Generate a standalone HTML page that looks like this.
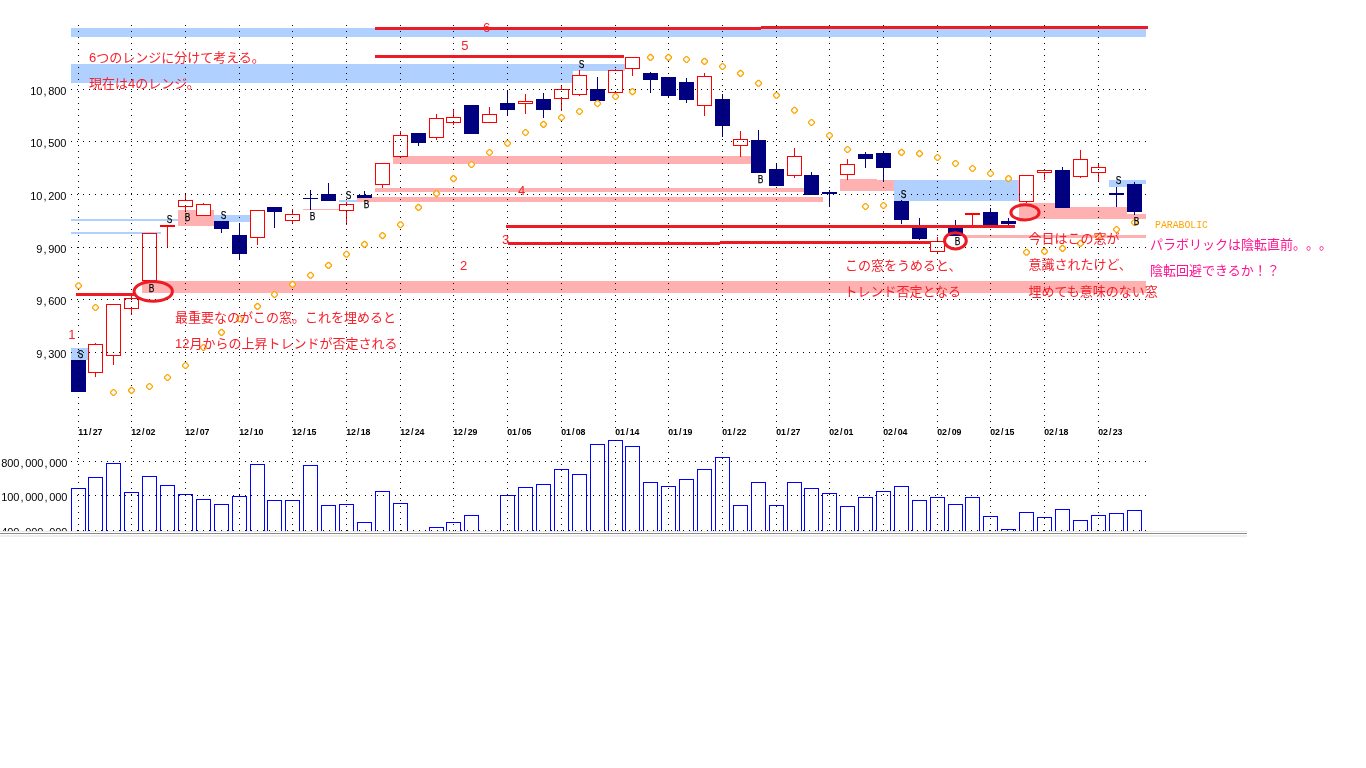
<!DOCTYPE html>
<html lang="ja"><head><meta charset="utf-8"><title>chart</title>
<style>html,body{margin:0;padding:0;background:#fff;overflow:hidden}svg{display:block}text{white-space:pre;text-spacing-trim:space-all}</style>
</head><body>
<svg width="1366" height="768" viewBox="0 0 1366 768">
<rect width="1366" height="768" fill="#fff"/>
<g shape-rendering="crispEdges">
<rect x="71" y="28" width="1075" height="9" fill="#b0d0ff"/>
<rect x="71" y="64" width="502" height="19" fill="#b0d0ff"/>
<rect x="573" y="64" width="52" height="7" fill="#b0d0ff"/>
<rect x="71" y="219" width="107" height="2" fill="#b0d0ff"/>
<rect x="71" y="232" width="90" height="2" fill="#b0d0ff"/>
<rect x="71" y="348" width="17" height="12" fill="#b0d0ff"/>
<rect x="214" y="215" width="36" height="7" fill="#b0d0ff"/>
<rect x="339" y="200" width="18" height="2" fill="#b0d0ff"/>
<rect x="894" y="180" width="125" height="21" fill="#b0d0ff"/>
<rect x="1109" y="180" width="18" height="7" fill="#b0d0ff"/>
<rect x="1127" y="180" width="19" height="4" fill="#b0d0ff"/>
<rect x="178" y="210" width="36" height="16" fill="#ffb0b0"/>
<rect x="142" y="281" width="1004" height="12" fill="#ffb0b0"/>
<rect x="303" y="209" width="36" height="1" fill="#ffb0b0"/>
<rect x="357" y="197" width="466" height="5" fill="#ffb0b0"/>
<rect x="375" y="188" width="429" height="4" fill="#ffb0b0"/>
<rect x="393" y="156" width="358" height="8" fill="#ffb0b0"/>
<rect x="840" y="179" width="37" height="12" fill="#ffb0b0"/>
<rect x="877" y="180" width="17" height="11" fill="#ffb0b0"/>
<rect x="963" y="235" width="183" height="3" fill="#ffb0b0"/>
<rect x="1019" y="203" width="36" height="16" fill="#ffb0b0"/>
<rect x="1055" y="207" width="72" height="12" fill="#ffb0b0"/>
<rect x="1127" y="214" width="19" height="5" fill="#ffb0b0"/>
<rect x="71" y="360" width="15" height="32" fill="#000080"/>
<rect x="95" y="343" width="1" height="1" fill="#ff0000"/>
<rect x="95" y="373" width="1" height="4" fill="#ff0000"/>
<rect x="88" y="344" width="15" height="29" fill="#ff0000"/>
<rect x="89" y="345" width="13" height="27" fill="#fff"/>
<rect x="113" y="356" width="1" height="9" fill="#ff0000"/>
<rect x="106" y="304" width="15" height="52" fill="#ff0000"/>
<rect x="107" y="305" width="13" height="50" fill="#fff"/>
<rect x="131" y="295" width="1" height="3" fill="#ff0000"/>
<rect x="131" y="309" width="1" height="6" fill="#ff0000"/>
<rect x="124" y="298" width="15" height="11" fill="#ff0000"/>
<rect x="125" y="299" width="13" height="9" fill="#fff"/>
<rect x="142" y="233" width="15" height="48" fill="#ff0000"/>
<rect x="143" y="234" width="13" height="46" fill="#fff"/>
<rect x="167" y="227" width="1" height="20" fill="#ff0000"/>
<rect x="160" y="225" width="15" height="2" fill="#ff0000"/>
<rect x="185" y="194" width="1" height="6" fill="#ff0000"/>
<rect x="185" y="207" width="1" height="5" fill="#ff0000"/>
<rect x="178" y="200" width="15" height="7" fill="#ff0000"/>
<rect x="179" y="201" width="13" height="5" fill="#fff"/>
<rect x="203" y="203" width="1" height="1" fill="#ff0000"/>
<rect x="196" y="204" width="15" height="12" fill="#ff0000"/>
<rect x="197" y="205" width="13" height="10" fill="#fff"/>
<rect x="221" y="229" width="1" height="4" fill="#000080"/>
<rect x="214" y="221" width="15" height="8" fill="#000080"/>
<rect x="239" y="223" width="1" height="12" fill="#000080"/>
<rect x="239" y="254" width="1" height="5" fill="#000080"/>
<rect x="232" y="235" width="15" height="19" fill="#000080"/>
<rect x="257" y="238" width="1" height="7" fill="#ff0000"/>
<rect x="250" y="210" width="15" height="28" fill="#ff0000"/>
<rect x="251" y="211" width="13" height="26" fill="#fff"/>
<rect x="274" y="212" width="1" height="16" fill="#000080"/>
<rect x="267" y="207" width="15" height="5" fill="#000080"/>
<rect x="292" y="209" width="1" height="5" fill="#ff0000"/>
<rect x="292" y="221" width="1" height="2" fill="#ff0000"/>
<rect x="285" y="214" width="15" height="7" fill="#ff0000"/>
<rect x="286" y="215" width="13" height="5" fill="#fff"/>
<rect x="310" y="190" width="1" height="8" fill="#000080"/>
<rect x="310" y="199" width="1" height="11" fill="#000080"/>
<rect x="303" y="198" width="15" height="1" fill="#000080"/>
<rect x="328" y="183" width="1" height="11" fill="#000080"/>
<rect x="321" y="194" width="15" height="7" fill="#000080"/>
<rect x="346" y="202" width="1" height="2" fill="#ff0000"/>
<rect x="346" y="211" width="1" height="14" fill="#ff0000"/>
<rect x="339" y="204" width="15" height="7" fill="#ff0000"/>
<rect x="340" y="205" width="13" height="5" fill="#fff"/>
<rect x="364" y="191" width="1" height="4" fill="#000080"/>
<rect x="357" y="195" width="15" height="3" fill="#000080"/>
<rect x="382" y="185" width="1" height="3" fill="#ff0000"/>
<rect x="375" y="163" width="15" height="22" fill="#ff0000"/>
<rect x="376" y="164" width="13" height="20" fill="#fff"/>
<rect x="400" y="131" width="1" height="4" fill="#ff0000"/>
<rect x="393" y="135" width="15" height="22" fill="#ff0000"/>
<rect x="394" y="136" width="13" height="20" fill="#fff"/>
<rect x="418" y="143" width="1" height="3" fill="#000080"/>
<rect x="411" y="133" width="15" height="10" fill="#000080"/>
<rect x="436" y="114" width="1" height="4" fill="#ff0000"/>
<rect x="436" y="138" width="1" height="2" fill="#ff0000"/>
<rect x="429" y="118" width="15" height="20" fill="#ff0000"/>
<rect x="430" y="119" width="13" height="18" fill="#fff"/>
<rect x="453" y="110" width="1" height="7" fill="#ff0000"/>
<rect x="453" y="123" width="1" height="2" fill="#ff0000"/>
<rect x="446" y="117" width="15" height="6" fill="#ff0000"/>
<rect x="447" y="118" width="13" height="4" fill="#fff"/>
<rect x="464" y="105" width="15" height="29" fill="#000080"/>
<rect x="489" y="107" width="1" height="7" fill="#ff0000"/>
<rect x="482" y="114" width="15" height="9" fill="#ff0000"/>
<rect x="483" y="115" width="13" height="7" fill="#fff"/>
<rect x="507" y="90" width="1" height="13" fill="#000080"/>
<rect x="507" y="110" width="1" height="6" fill="#000080"/>
<rect x="500" y="103" width="15" height="7" fill="#000080"/>
<rect x="525" y="94" width="1" height="7" fill="#ff0000"/>
<rect x="525" y="104" width="1" height="10" fill="#ff0000"/>
<rect x="518" y="101" width="15" height="3" fill="#ff0000"/>
<rect x="519" y="102" width="13" height="1" fill="#fff"/>
<rect x="543" y="93" width="1" height="6" fill="#000080"/>
<rect x="543" y="110" width="1" height="8" fill="#000080"/>
<rect x="536" y="99" width="15" height="11" fill="#000080"/>
<rect x="561" y="85" width="1" height="4" fill="#ff0000"/>
<rect x="561" y="99" width="1" height="12" fill="#ff0000"/>
<rect x="554" y="89" width="15" height="10" fill="#ff0000"/>
<rect x="555" y="90" width="13" height="8" fill="#fff"/>
<rect x="579" y="70" width="1" height="5" fill="#ff0000"/>
<rect x="579" y="95" width="1" height="1" fill="#ff0000"/>
<rect x="572" y="75" width="15" height="20" fill="#ff0000"/>
<rect x="573" y="76" width="13" height="18" fill="#fff"/>
<rect x="597" y="77" width="1" height="12" fill="#000080"/>
<rect x="590" y="89" width="15" height="12" fill="#000080"/>
<rect x="615" y="69" width="1" height="1" fill="#ff0000"/>
<rect x="608" y="70" width="15" height="23" fill="#ff0000"/>
<rect x="609" y="71" width="13" height="21" fill="#fff"/>
<rect x="632" y="69" width="1" height="7" fill="#ff0000"/>
<rect x="625" y="57" width="15" height="12" fill="#ff0000"/>
<rect x="626" y="58" width="13" height="10" fill="#fff"/>
<rect x="650" y="72" width="1" height="1" fill="#000080"/>
<rect x="650" y="80" width="1" height="13" fill="#000080"/>
<rect x="643" y="73" width="15" height="7" fill="#000080"/>
<rect x="668" y="96" width="1" height="1" fill="#000080"/>
<rect x="661" y="77" width="15" height="19" fill="#000080"/>
<rect x="686" y="78" width="1" height="4" fill="#000080"/>
<rect x="686" y="100" width="1" height="3" fill="#000080"/>
<rect x="679" y="82" width="15" height="18" fill="#000080"/>
<rect x="704" y="73" width="1" height="3" fill="#ff0000"/>
<rect x="704" y="106" width="1" height="10" fill="#ff0000"/>
<rect x="697" y="76" width="15" height="30" fill="#ff0000"/>
<rect x="698" y="77" width="13" height="28" fill="#fff"/>
<rect x="722" y="94" width="1" height="5" fill="#000080"/>
<rect x="722" y="126" width="1" height="11" fill="#000080"/>
<rect x="715" y="99" width="15" height="27" fill="#000080"/>
<rect x="740" y="131" width="1" height="8" fill="#ff0000"/>
<rect x="740" y="146" width="1" height="11" fill="#ff0000"/>
<rect x="733" y="139" width="15" height="7" fill="#ff0000"/>
<rect x="734" y="140" width="13" height="5" fill="#fff"/>
<rect x="758" y="130" width="1" height="10" fill="#000080"/>
<rect x="751" y="140" width="15" height="33" fill="#000080"/>
<rect x="776" y="164" width="1" height="5" fill="#000080"/>
<rect x="769" y="169" width="15" height="17" fill="#000080"/>
<rect x="794" y="148" width="1" height="8" fill="#ff0000"/>
<rect x="794" y="176" width="1" height="2" fill="#ff0000"/>
<rect x="787" y="156" width="15" height="20" fill="#ff0000"/>
<rect x="788" y="157" width="13" height="18" fill="#fff"/>
<rect x="811" y="172" width="1" height="3" fill="#000080"/>
<rect x="804" y="175" width="15" height="20" fill="#000080"/>
<rect x="829" y="190" width="1" height="2" fill="#000080"/>
<rect x="829" y="194" width="1" height="13" fill="#000080"/>
<rect x="822" y="192" width="15" height="2" fill="#000080"/>
<rect x="847" y="159" width="1" height="5" fill="#ff0000"/>
<rect x="847" y="175" width="1" height="5" fill="#ff0000"/>
<rect x="840" y="164" width="15" height="11" fill="#ff0000"/>
<rect x="841" y="165" width="13" height="9" fill="#fff"/>
<rect x="865" y="152" width="1" height="2" fill="#000080"/>
<rect x="865" y="159" width="1" height="9" fill="#000080"/>
<rect x="858" y="154" width="15" height="5" fill="#000080"/>
<rect x="883" y="152" width="1" height="1" fill="#000080"/>
<rect x="883" y="168" width="1" height="14" fill="#000080"/>
<rect x="876" y="153" width="15" height="15" fill="#000080"/>
<rect x="901" y="200" width="1" height="1" fill="#000080"/>
<rect x="901" y="220" width="1" height="4" fill="#000080"/>
<rect x="894" y="201" width="15" height="19" fill="#000080"/>
<rect x="919" y="218" width="1" height="10" fill="#000080"/>
<rect x="919" y="239" width="1" height="1" fill="#000080"/>
<rect x="912" y="228" width="15" height="11" fill="#000080"/>
<rect x="937" y="237" width="1" height="4" fill="#ff0000"/>
<rect x="937" y="252" width="1" height="2" fill="#ff0000"/>
<rect x="930" y="241" width="15" height="11" fill="#ff0000"/>
<rect x="931" y="242" width="13" height="9" fill="#fff"/>
<rect x="955" y="220" width="1" height="8" fill="#000080"/>
<rect x="948" y="228" width="15" height="8" fill="#000080"/>
<rect x="972" y="215" width="1" height="10" fill="#ff0000"/>
<rect x="965" y="213" width="15" height="2" fill="#ff0000"/>
<rect x="990" y="208" width="1" height="4" fill="#000080"/>
<rect x="983" y="212" width="15" height="13" fill="#000080"/>
<rect x="1008" y="218" width="1" height="3" fill="#000080"/>
<rect x="1008" y="224" width="1" height="2" fill="#000080"/>
<rect x="1001" y="221" width="15" height="3" fill="#000080"/>
<rect x="1026" y="202" width="1" height="1" fill="#ff0000"/>
<rect x="1019" y="175" width="15" height="27" fill="#ff0000"/>
<rect x="1020" y="176" width="13" height="25" fill="#fff"/>
<rect x="1044" y="173" width="1" height="7" fill="#ff0000"/>
<rect x="1037" y="170" width="15" height="3" fill="#ff0000"/>
<rect x="1038" y="171" width="13" height="1" fill="#fff"/>
<rect x="1062" y="167" width="1" height="3" fill="#000080"/>
<rect x="1055" y="170" width="15" height="38" fill="#000080"/>
<rect x="1080" y="150" width="1" height="9" fill="#ff0000"/>
<rect x="1080" y="177" width="1" height="1" fill="#ff0000"/>
<rect x="1073" y="159" width="15" height="18" fill="#ff0000"/>
<rect x="1074" y="160" width="13" height="16" fill="#fff"/>
<rect x="1098" y="163" width="1" height="4" fill="#ff0000"/>
<rect x="1098" y="173" width="1" height="9" fill="#ff0000"/>
<rect x="1091" y="167" width="15" height="6" fill="#ff0000"/>
<rect x="1092" y="168" width="13" height="4" fill="#fff"/>
<rect x="1116" y="187" width="1" height="6" fill="#000080"/>
<rect x="1116" y="195" width="1" height="12" fill="#000080"/>
<rect x="1109" y="193" width="15" height="2" fill="#000080"/>
<rect x="1134" y="182" width="1" height="2" fill="#000080"/>
<rect x="1134" y="212" width="1" height="3" fill="#000080"/>
<rect x="1127" y="184" width="15" height="28" fill="#000080"/>
<g fill="#0000ff">
<path d="M71 531V488H86V531H85V489H72V531Z"/>
<path d="M88 531V477H103V531H102V478H89V531Z"/>
<path d="M106 531V463H121V531H120V464H107V531Z"/>
<path d="M124 531V492H139V531H138V493H125V531Z"/>
<path d="M142 531V476H157V531H156V477H143V531Z"/>
<path d="M160 531V485H175V531H174V486H161V531Z"/>
<path d="M178 531V494H193V531H192V495H179V531Z"/>
<path d="M196 531V499H211V531H210V500H197V531Z"/>
<path d="M214 531V504H229V531H228V505H215V531Z"/>
<path d="M232 531V496H247V531H246V497H233V531Z"/>
<path d="M250 531V464H265V531H264V465H251V531Z"/>
<path d="M267 531V500H282V531H281V501H268V531Z"/>
<path d="M285 531V500H300V531H299V501H286V531Z"/>
<path d="M303 531V465H318V531H317V466H304V531Z"/>
<path d="M321 531V505H336V531H335V506H322V531Z"/>
<path d="M339 531V504H354V531H353V505H340V531Z"/>
<path d="M357 531V522H372V531H371V523H358V531Z"/>
<path d="M375 531V491H390V531H389V492H376V531Z"/>
<path d="M393 531V503H408V531H407V504H394V531Z"/>
<path d="M429 531V527H444V531H443V528H430V531Z"/>
<path d="M446 531V522H461V531H460V523H447V531Z"/>
<path d="M464 531V515H479V531H478V516H465V531Z"/>
<path d="M500 531V495H515V531H514V496H501V531Z"/>
<path d="M518 531V487H533V531H532V488H519V531Z"/>
<path d="M536 531V484H551V531H550V485H537V531Z"/>
<path d="M554 531V469H569V531H568V470H555V531Z"/>
<path d="M572 531V474H587V531H586V475H573V531Z"/>
<path d="M590 531V444H605V531H604V445H591V531Z"/>
<path d="M608 531V440H623V531H622V441H609V531Z"/>
<path d="M625 531V446H640V531H639V447H626V531Z"/>
<path d="M643 531V482H658V531H657V483H644V531Z"/>
<path d="M661 531V486H676V531H675V487H662V531Z"/>
<path d="M679 531V479H694V531H693V480H680V531Z"/>
<path d="M697 531V469H712V531H711V470H698V531Z"/>
<path d="M715 531V457H730V531H729V458H716V531Z"/>
<path d="M733 531V505H748V531H747V506H734V531Z"/>
<path d="M751 531V482H766V531H765V483H752V531Z"/>
<path d="M769 531V505H784V531H783V506H770V531Z"/>
<path d="M787 531V482H802V531H801V483H788V531Z"/>
<path d="M804 531V488H819V531H818V489H805V531Z"/>
<path d="M822 531V493H837V531H836V494H823V531Z"/>
<path d="M840 531V506H855V531H854V507H841V531Z"/>
<path d="M858 531V497H873V531H872V498H859V531Z"/>
<path d="M876 531V491H891V531H890V492H877V531Z"/>
<path d="M894 531V486H909V531H908V487H895V531Z"/>
<path d="M912 531V500H927V531H926V501H913V531Z"/>
<path d="M930 531V497H945V531H944V498H931V531Z"/>
<path d="M948 531V504H963V531H962V505H949V531Z"/>
<path d="M965 531V497H980V531H979V498H966V531Z"/>
<path d="M983 531V516H998V531H997V517H984V531Z"/>
<path d="M1001 531V529H1016V531H1015V530H1002V531Z"/>
<path d="M1019 531V512H1034V531H1033V513H1020V531Z"/>
<path d="M1037 531V517H1052V531H1051V518H1038V531Z"/>
<path d="M1055 531V509H1070V531H1069V510H1056V531Z"/>
<path d="M1073 531V520H1088V531H1087V521H1074V531Z"/>
<path d="M1091 531V515H1106V531H1105V516H1092V531Z"/>
<path d="M1109 531V513H1124V531H1123V514H1110V531Z"/>
<path d="M1127 531V510H1142V531H1141V511H1128V531Z"/>
</g>
<g fill="#000">
<path d="M71 89h1v1h-1zM77 89h1v1h-1zM83 89h1v1h-1zM89 89h1v1h-1zM95 89h1v1h-1zM101 89h1v1h-1zM107 89h1v1h-1zM113 89h1v1h-1zM119 89h1v1h-1zM125 89h1v1h-1zM131 89h1v1h-1zM137 89h1v1h-1zM143 89h1v1h-1zM149 89h1v1h-1zM155 89h1v1h-1zM161 89h1v1h-1zM167 89h1v1h-1zM173 89h1v1h-1zM179 89h1v1h-1zM185 89h1v1h-1zM191 89h1v1h-1zM197 89h1v1h-1zM203 89h1v1h-1zM209 89h1v1h-1zM215 89h1v1h-1zM221 89h1v1h-1zM227 89h1v1h-1zM233 89h1v1h-1zM239 89h1v1h-1zM245 89h1v1h-1zM251 89h1v1h-1zM257 89h1v1h-1zM263 89h1v1h-1zM269 89h1v1h-1zM275 89h1v1h-1zM281 89h1v1h-1zM287 89h1v1h-1zM293 89h1v1h-1zM299 89h1v1h-1zM305 89h1v1h-1zM311 89h1v1h-1zM317 89h1v1h-1zM323 89h1v1h-1zM329 89h1v1h-1zM335 89h1v1h-1zM341 89h1v1h-1zM347 89h1v1h-1zM353 89h1v1h-1zM359 89h1v1h-1zM365 89h1v1h-1zM371 89h1v1h-1zM377 89h1v1h-1zM383 89h1v1h-1zM389 89h1v1h-1zM395 89h1v1h-1zM401 89h1v1h-1zM407 89h1v1h-1zM413 89h1v1h-1zM419 89h1v1h-1zM425 89h1v1h-1zM431 89h1v1h-1zM437 89h1v1h-1zM443 89h1v1h-1zM449 89h1v1h-1zM455 89h1v1h-1zM461 89h1v1h-1zM467 89h1v1h-1zM473 89h1v1h-1zM479 89h1v1h-1zM485 89h1v1h-1zM491 89h1v1h-1zM497 89h1v1h-1zM503 89h1v1h-1zM509 89h1v1h-1zM515 89h1v1h-1zM521 89h1v1h-1zM527 89h1v1h-1zM533 89h1v1h-1zM539 89h1v1h-1zM545 89h1v1h-1zM551 89h1v1h-1zM557 89h1v1h-1zM563 89h1v1h-1zM569 89h1v1h-1zM575 89h1v1h-1zM581 89h1v1h-1zM587 89h1v1h-1zM593 89h1v1h-1zM599 89h1v1h-1zM605 89h1v1h-1zM611 89h1v1h-1zM617 89h1v1h-1zM623 89h1v1h-1zM629 89h1v1h-1zM635 89h1v1h-1zM641 89h1v1h-1zM647 89h1v1h-1zM653 89h1v1h-1zM659 89h1v1h-1zM665 89h1v1h-1zM671 89h1v1h-1zM677 89h1v1h-1zM683 89h1v1h-1zM689 89h1v1h-1zM695 89h1v1h-1zM701 89h1v1h-1zM707 89h1v1h-1zM713 89h1v1h-1zM719 89h1v1h-1zM725 89h1v1h-1zM731 89h1v1h-1zM737 89h1v1h-1zM743 89h1v1h-1zM749 89h1v1h-1zM755 89h1v1h-1zM761 89h1v1h-1zM767 89h1v1h-1zM773 89h1v1h-1zM779 89h1v1h-1zM785 89h1v1h-1zM791 89h1v1h-1zM797 89h1v1h-1zM803 89h1v1h-1zM809 89h1v1h-1zM815 89h1v1h-1zM821 89h1v1h-1zM827 89h1v1h-1zM833 89h1v1h-1zM839 89h1v1h-1zM845 89h1v1h-1zM851 89h1v1h-1zM857 89h1v1h-1zM863 89h1v1h-1zM869 89h1v1h-1zM875 89h1v1h-1zM881 89h1v1h-1zM887 89h1v1h-1zM893 89h1v1h-1zM899 89h1v1h-1zM905 89h1v1h-1zM911 89h1v1h-1zM917 89h1v1h-1zM923 89h1v1h-1zM929 89h1v1h-1zM935 89h1v1h-1zM941 89h1v1h-1zM947 89h1v1h-1zM953 89h1v1h-1zM959 89h1v1h-1zM965 89h1v1h-1zM971 89h1v1h-1zM977 89h1v1h-1zM983 89h1v1h-1zM989 89h1v1h-1zM995 89h1v1h-1zM1001 89h1v1h-1zM1007 89h1v1h-1zM1013 89h1v1h-1zM1019 89h1v1h-1zM1025 89h1v1h-1zM1031 89h1v1h-1zM1037 89h1v1h-1zM1043 89h1v1h-1zM1049 89h1v1h-1zM1055 89h1v1h-1zM1061 89h1v1h-1zM1067 89h1v1h-1zM1073 89h1v1h-1zM1079 89h1v1h-1zM1085 89h1v1h-1zM1091 89h1v1h-1zM1097 89h1v1h-1zM1103 89h1v1h-1zM1109 89h1v1h-1zM1115 89h1v1h-1zM1121 89h1v1h-1zM1127 89h1v1h-1zM1133 89h1v1h-1zM1139 89h1v1h-1zM1145 89h1v1h-1zM71 141h1v1h-1zM77 141h1v1h-1zM83 141h1v1h-1zM89 141h1v1h-1zM95 141h1v1h-1zM101 141h1v1h-1zM107 141h1v1h-1zM113 141h1v1h-1zM119 141h1v1h-1zM125 141h1v1h-1zM131 141h1v1h-1zM137 141h1v1h-1zM143 141h1v1h-1zM149 141h1v1h-1zM155 141h1v1h-1zM161 141h1v1h-1zM167 141h1v1h-1zM173 141h1v1h-1zM179 141h1v1h-1zM185 141h1v1h-1zM191 141h1v1h-1zM197 141h1v1h-1zM203 141h1v1h-1zM209 141h1v1h-1zM215 141h1v1h-1zM221 141h1v1h-1zM227 141h1v1h-1zM233 141h1v1h-1zM239 141h1v1h-1zM245 141h1v1h-1zM251 141h1v1h-1zM257 141h1v1h-1zM263 141h1v1h-1zM269 141h1v1h-1zM275 141h1v1h-1zM281 141h1v1h-1zM287 141h1v1h-1zM293 141h1v1h-1zM299 141h1v1h-1zM305 141h1v1h-1zM311 141h1v1h-1zM317 141h1v1h-1zM323 141h1v1h-1zM329 141h1v1h-1zM335 141h1v1h-1zM341 141h1v1h-1zM347 141h1v1h-1zM353 141h1v1h-1zM359 141h1v1h-1zM365 141h1v1h-1zM371 141h1v1h-1zM377 141h1v1h-1zM383 141h1v1h-1zM389 141h1v1h-1zM395 141h1v1h-1zM401 141h1v1h-1zM407 141h1v1h-1zM413 141h1v1h-1zM419 141h1v1h-1zM425 141h1v1h-1zM431 141h1v1h-1zM437 141h1v1h-1zM443 141h1v1h-1zM449 141h1v1h-1zM455 141h1v1h-1zM461 141h1v1h-1zM467 141h1v1h-1zM473 141h1v1h-1zM479 141h1v1h-1zM485 141h1v1h-1zM491 141h1v1h-1zM497 141h1v1h-1zM503 141h1v1h-1zM509 141h1v1h-1zM515 141h1v1h-1zM521 141h1v1h-1zM527 141h1v1h-1zM533 141h1v1h-1zM539 141h1v1h-1zM545 141h1v1h-1zM551 141h1v1h-1zM557 141h1v1h-1zM563 141h1v1h-1zM569 141h1v1h-1zM575 141h1v1h-1zM581 141h1v1h-1zM587 141h1v1h-1zM593 141h1v1h-1zM599 141h1v1h-1zM605 141h1v1h-1zM611 141h1v1h-1zM617 141h1v1h-1zM623 141h1v1h-1zM629 141h1v1h-1zM635 141h1v1h-1zM641 141h1v1h-1zM647 141h1v1h-1zM653 141h1v1h-1zM659 141h1v1h-1zM665 141h1v1h-1zM671 141h1v1h-1zM677 141h1v1h-1zM683 141h1v1h-1zM689 141h1v1h-1zM695 141h1v1h-1zM701 141h1v1h-1zM707 141h1v1h-1zM713 141h1v1h-1zM719 141h1v1h-1zM725 141h1v1h-1zM731 141h1v1h-1zM737 141h1v1h-1zM743 141h1v1h-1zM749 141h1v1h-1zM755 141h1v1h-1zM761 141h1v1h-1zM767 141h1v1h-1zM773 141h1v1h-1zM779 141h1v1h-1zM785 141h1v1h-1zM791 141h1v1h-1zM797 141h1v1h-1zM803 141h1v1h-1zM809 141h1v1h-1zM815 141h1v1h-1zM821 141h1v1h-1zM827 141h1v1h-1zM833 141h1v1h-1zM839 141h1v1h-1zM845 141h1v1h-1zM851 141h1v1h-1zM857 141h1v1h-1zM863 141h1v1h-1zM869 141h1v1h-1zM875 141h1v1h-1zM881 141h1v1h-1zM887 141h1v1h-1zM893 141h1v1h-1zM899 141h1v1h-1zM905 141h1v1h-1zM911 141h1v1h-1zM917 141h1v1h-1zM923 141h1v1h-1zM929 141h1v1h-1zM935 141h1v1h-1zM941 141h1v1h-1zM947 141h1v1h-1zM953 141h1v1h-1zM959 141h1v1h-1zM965 141h1v1h-1zM971 141h1v1h-1zM977 141h1v1h-1zM983 141h1v1h-1zM989 141h1v1h-1zM995 141h1v1h-1zM1001 141h1v1h-1zM1007 141h1v1h-1zM1013 141h1v1h-1zM1019 141h1v1h-1zM1025 141h1v1h-1zM1031 141h1v1h-1zM1037 141h1v1h-1zM1043 141h1v1h-1zM1049 141h1v1h-1zM1055 141h1v1h-1zM1061 141h1v1h-1zM1067 141h1v1h-1zM1073 141h1v1h-1zM1079 141h1v1h-1zM1085 141h1v1h-1zM1091 141h1v1h-1zM1097 141h1v1h-1zM1103 141h1v1h-1zM1109 141h1v1h-1zM1115 141h1v1h-1zM1121 141h1v1h-1zM1127 141h1v1h-1zM1133 141h1v1h-1zM1139 141h1v1h-1zM1145 141h1v1h-1zM71 194h1v1h-1zM77 194h1v1h-1zM83 194h1v1h-1zM89 194h1v1h-1zM95 194h1v1h-1zM101 194h1v1h-1zM107 194h1v1h-1zM113 194h1v1h-1zM119 194h1v1h-1zM125 194h1v1h-1zM131 194h1v1h-1zM137 194h1v1h-1zM143 194h1v1h-1zM149 194h1v1h-1zM155 194h1v1h-1zM161 194h1v1h-1zM167 194h1v1h-1zM173 194h1v1h-1zM179 194h1v1h-1zM185 194h1v1h-1zM191 194h1v1h-1zM197 194h1v1h-1zM203 194h1v1h-1zM209 194h1v1h-1zM215 194h1v1h-1zM221 194h1v1h-1zM227 194h1v1h-1zM233 194h1v1h-1zM239 194h1v1h-1zM245 194h1v1h-1zM251 194h1v1h-1zM257 194h1v1h-1zM263 194h1v1h-1zM269 194h1v1h-1zM275 194h1v1h-1zM281 194h1v1h-1zM287 194h1v1h-1zM293 194h1v1h-1zM299 194h1v1h-1zM305 194h1v1h-1zM311 194h1v1h-1zM317 194h1v1h-1zM323 194h1v1h-1zM329 194h1v1h-1zM335 194h1v1h-1zM341 194h1v1h-1zM347 194h1v1h-1zM353 194h1v1h-1zM359 194h1v1h-1zM365 194h1v1h-1zM371 194h1v1h-1zM377 194h1v1h-1zM383 194h1v1h-1zM389 194h1v1h-1zM395 194h1v1h-1zM401 194h1v1h-1zM407 194h1v1h-1zM413 194h1v1h-1zM419 194h1v1h-1zM425 194h1v1h-1zM431 194h1v1h-1zM437 194h1v1h-1zM443 194h1v1h-1zM449 194h1v1h-1zM455 194h1v1h-1zM461 194h1v1h-1zM467 194h1v1h-1zM473 194h1v1h-1zM479 194h1v1h-1zM485 194h1v1h-1zM491 194h1v1h-1zM497 194h1v1h-1zM503 194h1v1h-1zM509 194h1v1h-1zM515 194h1v1h-1zM521 194h1v1h-1zM527 194h1v1h-1zM533 194h1v1h-1zM539 194h1v1h-1zM545 194h1v1h-1zM551 194h1v1h-1zM557 194h1v1h-1zM563 194h1v1h-1zM569 194h1v1h-1zM575 194h1v1h-1zM581 194h1v1h-1zM587 194h1v1h-1zM593 194h1v1h-1zM599 194h1v1h-1zM605 194h1v1h-1zM611 194h1v1h-1zM617 194h1v1h-1zM623 194h1v1h-1zM629 194h1v1h-1zM635 194h1v1h-1zM641 194h1v1h-1zM647 194h1v1h-1zM653 194h1v1h-1zM659 194h1v1h-1zM665 194h1v1h-1zM671 194h1v1h-1zM677 194h1v1h-1zM683 194h1v1h-1zM689 194h1v1h-1zM695 194h1v1h-1zM701 194h1v1h-1zM707 194h1v1h-1zM713 194h1v1h-1zM719 194h1v1h-1zM725 194h1v1h-1zM731 194h1v1h-1zM737 194h1v1h-1zM743 194h1v1h-1zM749 194h1v1h-1zM755 194h1v1h-1zM761 194h1v1h-1zM767 194h1v1h-1zM773 194h1v1h-1zM779 194h1v1h-1zM785 194h1v1h-1zM791 194h1v1h-1zM797 194h1v1h-1zM803 194h1v1h-1zM809 194h1v1h-1zM815 194h1v1h-1zM821 194h1v1h-1zM827 194h1v1h-1zM833 194h1v1h-1zM839 194h1v1h-1zM845 194h1v1h-1zM851 194h1v1h-1zM857 194h1v1h-1zM863 194h1v1h-1zM869 194h1v1h-1zM875 194h1v1h-1zM881 194h1v1h-1zM887 194h1v1h-1zM893 194h1v1h-1zM899 194h1v1h-1zM905 194h1v1h-1zM911 194h1v1h-1zM917 194h1v1h-1zM923 194h1v1h-1zM929 194h1v1h-1zM935 194h1v1h-1zM941 194h1v1h-1zM947 194h1v1h-1zM953 194h1v1h-1zM959 194h1v1h-1zM965 194h1v1h-1zM971 194h1v1h-1zM977 194h1v1h-1zM983 194h1v1h-1zM989 194h1v1h-1zM995 194h1v1h-1zM1001 194h1v1h-1zM1007 194h1v1h-1zM1013 194h1v1h-1zM1019 194h1v1h-1zM1025 194h1v1h-1zM1031 194h1v1h-1zM1037 194h1v1h-1zM1043 194h1v1h-1zM1049 194h1v1h-1zM1055 194h1v1h-1zM1061 194h1v1h-1zM1067 194h1v1h-1zM1073 194h1v1h-1zM1079 194h1v1h-1zM1085 194h1v1h-1zM1091 194h1v1h-1zM1097 194h1v1h-1zM1103 194h1v1h-1zM1109 194h1v1h-1zM1115 194h1v1h-1zM1121 194h1v1h-1zM1127 194h1v1h-1zM1133 194h1v1h-1zM1139 194h1v1h-1zM1145 194h1v1h-1zM71 247h1v1h-1zM77 247h1v1h-1zM83 247h1v1h-1zM89 247h1v1h-1zM95 247h1v1h-1zM101 247h1v1h-1zM107 247h1v1h-1zM113 247h1v1h-1zM119 247h1v1h-1zM125 247h1v1h-1zM131 247h1v1h-1zM137 247h1v1h-1zM143 247h1v1h-1zM149 247h1v1h-1zM155 247h1v1h-1zM161 247h1v1h-1zM167 247h1v1h-1zM173 247h1v1h-1zM179 247h1v1h-1zM185 247h1v1h-1zM191 247h1v1h-1zM197 247h1v1h-1zM203 247h1v1h-1zM209 247h1v1h-1zM215 247h1v1h-1zM221 247h1v1h-1zM227 247h1v1h-1zM233 247h1v1h-1zM239 247h1v1h-1zM245 247h1v1h-1zM251 247h1v1h-1zM257 247h1v1h-1zM263 247h1v1h-1zM269 247h1v1h-1zM275 247h1v1h-1zM281 247h1v1h-1zM287 247h1v1h-1zM293 247h1v1h-1zM299 247h1v1h-1zM305 247h1v1h-1zM311 247h1v1h-1zM317 247h1v1h-1zM323 247h1v1h-1zM329 247h1v1h-1zM335 247h1v1h-1zM341 247h1v1h-1zM347 247h1v1h-1zM353 247h1v1h-1zM359 247h1v1h-1zM365 247h1v1h-1zM371 247h1v1h-1zM377 247h1v1h-1zM383 247h1v1h-1zM389 247h1v1h-1zM395 247h1v1h-1zM401 247h1v1h-1zM407 247h1v1h-1zM413 247h1v1h-1zM419 247h1v1h-1zM425 247h1v1h-1zM431 247h1v1h-1zM437 247h1v1h-1zM443 247h1v1h-1zM449 247h1v1h-1zM455 247h1v1h-1zM461 247h1v1h-1zM467 247h1v1h-1zM473 247h1v1h-1zM479 247h1v1h-1zM485 247h1v1h-1zM491 247h1v1h-1zM497 247h1v1h-1zM503 247h1v1h-1zM509 247h1v1h-1zM515 247h1v1h-1zM521 247h1v1h-1zM527 247h1v1h-1zM533 247h1v1h-1zM539 247h1v1h-1zM545 247h1v1h-1zM551 247h1v1h-1zM557 247h1v1h-1zM563 247h1v1h-1zM569 247h1v1h-1zM575 247h1v1h-1zM581 247h1v1h-1zM587 247h1v1h-1zM593 247h1v1h-1zM599 247h1v1h-1zM605 247h1v1h-1zM611 247h1v1h-1zM617 247h1v1h-1zM623 247h1v1h-1zM629 247h1v1h-1zM635 247h1v1h-1zM641 247h1v1h-1zM647 247h1v1h-1zM653 247h1v1h-1zM659 247h1v1h-1zM665 247h1v1h-1zM671 247h1v1h-1zM677 247h1v1h-1zM683 247h1v1h-1zM689 247h1v1h-1zM695 247h1v1h-1zM701 247h1v1h-1zM707 247h1v1h-1zM713 247h1v1h-1zM719 247h1v1h-1zM725 247h1v1h-1zM731 247h1v1h-1zM737 247h1v1h-1zM743 247h1v1h-1zM749 247h1v1h-1zM755 247h1v1h-1zM761 247h1v1h-1zM767 247h1v1h-1zM773 247h1v1h-1zM779 247h1v1h-1zM785 247h1v1h-1zM791 247h1v1h-1zM797 247h1v1h-1zM803 247h1v1h-1zM809 247h1v1h-1zM815 247h1v1h-1zM821 247h1v1h-1zM827 247h1v1h-1zM833 247h1v1h-1zM839 247h1v1h-1zM845 247h1v1h-1zM851 247h1v1h-1zM857 247h1v1h-1zM863 247h1v1h-1zM869 247h1v1h-1zM875 247h1v1h-1zM881 247h1v1h-1zM887 247h1v1h-1zM893 247h1v1h-1zM899 247h1v1h-1zM905 247h1v1h-1zM911 247h1v1h-1zM917 247h1v1h-1zM923 247h1v1h-1zM929 247h1v1h-1zM935 247h1v1h-1zM941 247h1v1h-1zM947 247h1v1h-1zM953 247h1v1h-1zM959 247h1v1h-1zM965 247h1v1h-1zM971 247h1v1h-1zM977 247h1v1h-1zM983 247h1v1h-1zM989 247h1v1h-1zM995 247h1v1h-1zM1001 247h1v1h-1zM1007 247h1v1h-1zM1013 247h1v1h-1zM1019 247h1v1h-1zM1025 247h1v1h-1zM1031 247h1v1h-1zM1037 247h1v1h-1zM1043 247h1v1h-1zM1049 247h1v1h-1zM1055 247h1v1h-1zM1061 247h1v1h-1zM1067 247h1v1h-1zM1073 247h1v1h-1zM1079 247h1v1h-1zM1085 247h1v1h-1zM1091 247h1v1h-1zM1097 247h1v1h-1zM1103 247h1v1h-1zM1109 247h1v1h-1zM1115 247h1v1h-1zM1121 247h1v1h-1zM1127 247h1v1h-1zM1133 247h1v1h-1zM1139 247h1v1h-1zM1145 247h1v1h-1zM71 299h1v1h-1zM77 299h1v1h-1zM83 299h1v1h-1zM89 299h1v1h-1zM95 299h1v1h-1zM101 299h1v1h-1zM107 299h1v1h-1zM113 299h1v1h-1zM119 299h1v1h-1zM125 299h1v1h-1zM131 299h1v1h-1zM137 299h1v1h-1zM143 299h1v1h-1zM149 299h1v1h-1zM155 299h1v1h-1zM161 299h1v1h-1zM167 299h1v1h-1zM173 299h1v1h-1zM179 299h1v1h-1zM185 299h1v1h-1zM191 299h1v1h-1zM197 299h1v1h-1zM203 299h1v1h-1zM209 299h1v1h-1zM215 299h1v1h-1zM221 299h1v1h-1zM227 299h1v1h-1zM233 299h1v1h-1zM239 299h1v1h-1zM245 299h1v1h-1zM251 299h1v1h-1zM257 299h1v1h-1zM263 299h1v1h-1zM269 299h1v1h-1zM275 299h1v1h-1zM281 299h1v1h-1zM287 299h1v1h-1zM293 299h1v1h-1zM299 299h1v1h-1zM305 299h1v1h-1zM311 299h1v1h-1zM317 299h1v1h-1zM323 299h1v1h-1zM329 299h1v1h-1zM335 299h1v1h-1zM341 299h1v1h-1zM347 299h1v1h-1zM353 299h1v1h-1zM359 299h1v1h-1zM365 299h1v1h-1zM371 299h1v1h-1zM377 299h1v1h-1zM383 299h1v1h-1zM389 299h1v1h-1zM395 299h1v1h-1zM401 299h1v1h-1zM407 299h1v1h-1zM413 299h1v1h-1zM419 299h1v1h-1zM425 299h1v1h-1zM431 299h1v1h-1zM437 299h1v1h-1zM443 299h1v1h-1zM449 299h1v1h-1zM455 299h1v1h-1zM461 299h1v1h-1zM467 299h1v1h-1zM473 299h1v1h-1zM479 299h1v1h-1zM485 299h1v1h-1zM491 299h1v1h-1zM497 299h1v1h-1zM503 299h1v1h-1zM509 299h1v1h-1zM515 299h1v1h-1zM521 299h1v1h-1zM527 299h1v1h-1zM533 299h1v1h-1zM539 299h1v1h-1zM545 299h1v1h-1zM551 299h1v1h-1zM557 299h1v1h-1zM563 299h1v1h-1zM569 299h1v1h-1zM575 299h1v1h-1zM581 299h1v1h-1zM587 299h1v1h-1zM593 299h1v1h-1zM599 299h1v1h-1zM605 299h1v1h-1zM611 299h1v1h-1zM617 299h1v1h-1zM623 299h1v1h-1zM629 299h1v1h-1zM635 299h1v1h-1zM641 299h1v1h-1zM647 299h1v1h-1zM653 299h1v1h-1zM659 299h1v1h-1zM665 299h1v1h-1zM671 299h1v1h-1zM677 299h1v1h-1zM683 299h1v1h-1zM689 299h1v1h-1zM695 299h1v1h-1zM701 299h1v1h-1zM707 299h1v1h-1zM713 299h1v1h-1zM719 299h1v1h-1zM725 299h1v1h-1zM731 299h1v1h-1zM737 299h1v1h-1zM743 299h1v1h-1zM749 299h1v1h-1zM755 299h1v1h-1zM761 299h1v1h-1zM767 299h1v1h-1zM773 299h1v1h-1zM779 299h1v1h-1zM785 299h1v1h-1zM791 299h1v1h-1zM797 299h1v1h-1zM803 299h1v1h-1zM809 299h1v1h-1zM815 299h1v1h-1zM821 299h1v1h-1zM827 299h1v1h-1zM833 299h1v1h-1zM839 299h1v1h-1zM845 299h1v1h-1zM851 299h1v1h-1zM857 299h1v1h-1zM863 299h1v1h-1zM869 299h1v1h-1zM875 299h1v1h-1zM881 299h1v1h-1zM887 299h1v1h-1zM893 299h1v1h-1zM899 299h1v1h-1zM905 299h1v1h-1zM911 299h1v1h-1zM917 299h1v1h-1zM923 299h1v1h-1zM929 299h1v1h-1zM935 299h1v1h-1zM941 299h1v1h-1zM947 299h1v1h-1zM953 299h1v1h-1zM959 299h1v1h-1zM965 299h1v1h-1zM971 299h1v1h-1zM977 299h1v1h-1zM983 299h1v1h-1zM989 299h1v1h-1zM995 299h1v1h-1zM1001 299h1v1h-1zM1007 299h1v1h-1zM1013 299h1v1h-1zM1019 299h1v1h-1zM1025 299h1v1h-1zM1031 299h1v1h-1zM1037 299h1v1h-1zM1043 299h1v1h-1zM1049 299h1v1h-1zM1055 299h1v1h-1zM1061 299h1v1h-1zM1067 299h1v1h-1zM1073 299h1v1h-1zM1079 299h1v1h-1zM1085 299h1v1h-1zM1091 299h1v1h-1zM1097 299h1v1h-1zM1103 299h1v1h-1zM1109 299h1v1h-1zM1115 299h1v1h-1zM1121 299h1v1h-1zM1127 299h1v1h-1zM1133 299h1v1h-1zM1139 299h1v1h-1zM1145 299h1v1h-1zM71 352h1v1h-1zM77 352h1v1h-1zM83 352h1v1h-1zM89 352h1v1h-1zM95 352h1v1h-1zM101 352h1v1h-1zM107 352h1v1h-1zM113 352h1v1h-1zM119 352h1v1h-1zM125 352h1v1h-1zM131 352h1v1h-1zM137 352h1v1h-1zM143 352h1v1h-1zM149 352h1v1h-1zM155 352h1v1h-1zM161 352h1v1h-1zM167 352h1v1h-1zM173 352h1v1h-1zM179 352h1v1h-1zM185 352h1v1h-1zM191 352h1v1h-1zM197 352h1v1h-1zM203 352h1v1h-1zM209 352h1v1h-1zM215 352h1v1h-1zM221 352h1v1h-1zM227 352h1v1h-1zM233 352h1v1h-1zM239 352h1v1h-1zM245 352h1v1h-1zM251 352h1v1h-1zM257 352h1v1h-1zM263 352h1v1h-1zM269 352h1v1h-1zM275 352h1v1h-1zM281 352h1v1h-1zM287 352h1v1h-1zM293 352h1v1h-1zM299 352h1v1h-1zM305 352h1v1h-1zM311 352h1v1h-1zM317 352h1v1h-1zM323 352h1v1h-1zM329 352h1v1h-1zM335 352h1v1h-1zM341 352h1v1h-1zM347 352h1v1h-1zM353 352h1v1h-1zM359 352h1v1h-1zM365 352h1v1h-1zM371 352h1v1h-1zM377 352h1v1h-1zM383 352h1v1h-1zM389 352h1v1h-1zM395 352h1v1h-1zM401 352h1v1h-1zM407 352h1v1h-1zM413 352h1v1h-1zM419 352h1v1h-1zM425 352h1v1h-1zM431 352h1v1h-1zM437 352h1v1h-1zM443 352h1v1h-1zM449 352h1v1h-1zM455 352h1v1h-1zM461 352h1v1h-1zM467 352h1v1h-1zM473 352h1v1h-1zM479 352h1v1h-1zM485 352h1v1h-1zM491 352h1v1h-1zM497 352h1v1h-1zM503 352h1v1h-1zM509 352h1v1h-1zM515 352h1v1h-1zM521 352h1v1h-1zM527 352h1v1h-1zM533 352h1v1h-1zM539 352h1v1h-1zM545 352h1v1h-1zM551 352h1v1h-1zM557 352h1v1h-1zM563 352h1v1h-1zM569 352h1v1h-1zM575 352h1v1h-1zM581 352h1v1h-1zM587 352h1v1h-1zM593 352h1v1h-1zM599 352h1v1h-1zM605 352h1v1h-1zM611 352h1v1h-1zM617 352h1v1h-1zM623 352h1v1h-1zM629 352h1v1h-1zM635 352h1v1h-1zM641 352h1v1h-1zM647 352h1v1h-1zM653 352h1v1h-1zM659 352h1v1h-1zM665 352h1v1h-1zM671 352h1v1h-1zM677 352h1v1h-1zM683 352h1v1h-1zM689 352h1v1h-1zM695 352h1v1h-1zM701 352h1v1h-1zM707 352h1v1h-1zM713 352h1v1h-1zM719 352h1v1h-1zM725 352h1v1h-1zM731 352h1v1h-1zM737 352h1v1h-1zM743 352h1v1h-1zM749 352h1v1h-1zM755 352h1v1h-1zM761 352h1v1h-1zM767 352h1v1h-1zM773 352h1v1h-1zM779 352h1v1h-1zM785 352h1v1h-1zM791 352h1v1h-1zM797 352h1v1h-1zM803 352h1v1h-1zM809 352h1v1h-1zM815 352h1v1h-1zM821 352h1v1h-1zM827 352h1v1h-1zM833 352h1v1h-1zM839 352h1v1h-1zM845 352h1v1h-1zM851 352h1v1h-1zM857 352h1v1h-1zM863 352h1v1h-1zM869 352h1v1h-1zM875 352h1v1h-1zM881 352h1v1h-1zM887 352h1v1h-1zM893 352h1v1h-1zM899 352h1v1h-1zM905 352h1v1h-1zM911 352h1v1h-1zM917 352h1v1h-1zM923 352h1v1h-1zM929 352h1v1h-1zM935 352h1v1h-1zM941 352h1v1h-1zM947 352h1v1h-1zM953 352h1v1h-1zM959 352h1v1h-1zM965 352h1v1h-1zM971 352h1v1h-1zM977 352h1v1h-1zM983 352h1v1h-1zM989 352h1v1h-1zM995 352h1v1h-1zM1001 352h1v1h-1zM1007 352h1v1h-1zM1013 352h1v1h-1zM1019 352h1v1h-1zM1025 352h1v1h-1zM1031 352h1v1h-1zM1037 352h1v1h-1zM1043 352h1v1h-1zM1049 352h1v1h-1zM1055 352h1v1h-1zM1061 352h1v1h-1zM1067 352h1v1h-1zM1073 352h1v1h-1zM1079 352h1v1h-1zM1085 352h1v1h-1zM1091 352h1v1h-1zM1097 352h1v1h-1zM1103 352h1v1h-1zM1109 352h1v1h-1zM1115 352h1v1h-1zM1121 352h1v1h-1zM1127 352h1v1h-1zM1133 352h1v1h-1zM1139 352h1v1h-1zM1145 352h1v1h-1zM71 461h1v1h-1zM77 461h1v1h-1zM83 461h1v1h-1zM89 461h1v1h-1zM95 461h1v1h-1zM101 461h1v1h-1zM107 461h1v1h-1zM113 461h1v1h-1zM119 461h1v1h-1zM125 461h1v1h-1zM131 461h1v1h-1zM137 461h1v1h-1zM143 461h1v1h-1zM149 461h1v1h-1zM155 461h1v1h-1zM161 461h1v1h-1zM167 461h1v1h-1zM173 461h1v1h-1zM179 461h1v1h-1zM185 461h1v1h-1zM191 461h1v1h-1zM197 461h1v1h-1zM203 461h1v1h-1zM209 461h1v1h-1zM215 461h1v1h-1zM221 461h1v1h-1zM227 461h1v1h-1zM233 461h1v1h-1zM239 461h1v1h-1zM245 461h1v1h-1zM251 461h1v1h-1zM257 461h1v1h-1zM263 461h1v1h-1zM269 461h1v1h-1zM275 461h1v1h-1zM281 461h1v1h-1zM287 461h1v1h-1zM293 461h1v1h-1zM299 461h1v1h-1zM305 461h1v1h-1zM311 461h1v1h-1zM317 461h1v1h-1zM323 461h1v1h-1zM329 461h1v1h-1zM335 461h1v1h-1zM341 461h1v1h-1zM347 461h1v1h-1zM353 461h1v1h-1zM359 461h1v1h-1zM365 461h1v1h-1zM371 461h1v1h-1zM377 461h1v1h-1zM383 461h1v1h-1zM389 461h1v1h-1zM395 461h1v1h-1zM401 461h1v1h-1zM407 461h1v1h-1zM413 461h1v1h-1zM419 461h1v1h-1zM425 461h1v1h-1zM431 461h1v1h-1zM437 461h1v1h-1zM443 461h1v1h-1zM449 461h1v1h-1zM455 461h1v1h-1zM461 461h1v1h-1zM467 461h1v1h-1zM473 461h1v1h-1zM479 461h1v1h-1zM485 461h1v1h-1zM491 461h1v1h-1zM497 461h1v1h-1zM503 461h1v1h-1zM509 461h1v1h-1zM515 461h1v1h-1zM521 461h1v1h-1zM527 461h1v1h-1zM533 461h1v1h-1zM539 461h1v1h-1zM545 461h1v1h-1zM551 461h1v1h-1zM557 461h1v1h-1zM563 461h1v1h-1zM569 461h1v1h-1zM575 461h1v1h-1zM581 461h1v1h-1zM587 461h1v1h-1zM593 461h1v1h-1zM599 461h1v1h-1zM605 461h1v1h-1zM611 461h1v1h-1zM617 461h1v1h-1zM623 461h1v1h-1zM629 461h1v1h-1zM635 461h1v1h-1zM641 461h1v1h-1zM647 461h1v1h-1zM653 461h1v1h-1zM659 461h1v1h-1zM665 461h1v1h-1zM671 461h1v1h-1zM677 461h1v1h-1zM683 461h1v1h-1zM689 461h1v1h-1zM695 461h1v1h-1zM701 461h1v1h-1zM707 461h1v1h-1zM713 461h1v1h-1zM719 461h1v1h-1zM725 461h1v1h-1zM731 461h1v1h-1zM737 461h1v1h-1zM743 461h1v1h-1zM749 461h1v1h-1zM755 461h1v1h-1zM761 461h1v1h-1zM767 461h1v1h-1zM773 461h1v1h-1zM779 461h1v1h-1zM785 461h1v1h-1zM791 461h1v1h-1zM797 461h1v1h-1zM803 461h1v1h-1zM809 461h1v1h-1zM815 461h1v1h-1zM821 461h1v1h-1zM827 461h1v1h-1zM833 461h1v1h-1zM839 461h1v1h-1zM845 461h1v1h-1zM851 461h1v1h-1zM857 461h1v1h-1zM863 461h1v1h-1zM869 461h1v1h-1zM875 461h1v1h-1zM881 461h1v1h-1zM887 461h1v1h-1zM893 461h1v1h-1zM899 461h1v1h-1zM905 461h1v1h-1zM911 461h1v1h-1zM917 461h1v1h-1zM923 461h1v1h-1zM929 461h1v1h-1zM935 461h1v1h-1zM941 461h1v1h-1zM947 461h1v1h-1zM953 461h1v1h-1zM959 461h1v1h-1zM965 461h1v1h-1zM971 461h1v1h-1zM977 461h1v1h-1zM983 461h1v1h-1zM989 461h1v1h-1zM995 461h1v1h-1zM1001 461h1v1h-1zM1007 461h1v1h-1zM1013 461h1v1h-1zM1019 461h1v1h-1zM1025 461h1v1h-1zM1031 461h1v1h-1zM1037 461h1v1h-1zM1043 461h1v1h-1zM1049 461h1v1h-1zM1055 461h1v1h-1zM1061 461h1v1h-1zM1067 461h1v1h-1zM1073 461h1v1h-1zM1079 461h1v1h-1zM1085 461h1v1h-1zM1091 461h1v1h-1zM1097 461h1v1h-1zM1103 461h1v1h-1zM1109 461h1v1h-1zM1115 461h1v1h-1zM1121 461h1v1h-1zM1127 461h1v1h-1zM1133 461h1v1h-1zM1139 461h1v1h-1zM1145 461h1v1h-1zM71 495h1v1h-1zM77 495h1v1h-1zM83 495h1v1h-1zM89 495h1v1h-1zM95 495h1v1h-1zM101 495h1v1h-1zM107 495h1v1h-1zM113 495h1v1h-1zM119 495h1v1h-1zM125 495h1v1h-1zM131 495h1v1h-1zM137 495h1v1h-1zM143 495h1v1h-1zM149 495h1v1h-1zM155 495h1v1h-1zM161 495h1v1h-1zM167 495h1v1h-1zM173 495h1v1h-1zM179 495h1v1h-1zM185 495h1v1h-1zM191 495h1v1h-1zM197 495h1v1h-1zM203 495h1v1h-1zM209 495h1v1h-1zM215 495h1v1h-1zM221 495h1v1h-1zM227 495h1v1h-1zM233 495h1v1h-1zM239 495h1v1h-1zM245 495h1v1h-1zM251 495h1v1h-1zM257 495h1v1h-1zM263 495h1v1h-1zM269 495h1v1h-1zM275 495h1v1h-1zM281 495h1v1h-1zM287 495h1v1h-1zM293 495h1v1h-1zM299 495h1v1h-1zM305 495h1v1h-1zM311 495h1v1h-1zM317 495h1v1h-1zM323 495h1v1h-1zM329 495h1v1h-1zM335 495h1v1h-1zM341 495h1v1h-1zM347 495h1v1h-1zM353 495h1v1h-1zM359 495h1v1h-1zM365 495h1v1h-1zM371 495h1v1h-1zM377 495h1v1h-1zM383 495h1v1h-1zM389 495h1v1h-1zM395 495h1v1h-1zM401 495h1v1h-1zM407 495h1v1h-1zM413 495h1v1h-1zM419 495h1v1h-1zM425 495h1v1h-1zM431 495h1v1h-1zM437 495h1v1h-1zM443 495h1v1h-1zM449 495h1v1h-1zM455 495h1v1h-1zM461 495h1v1h-1zM467 495h1v1h-1zM473 495h1v1h-1zM479 495h1v1h-1zM485 495h1v1h-1zM491 495h1v1h-1zM497 495h1v1h-1zM503 495h1v1h-1zM509 495h1v1h-1zM515 495h1v1h-1zM521 495h1v1h-1zM527 495h1v1h-1zM533 495h1v1h-1zM539 495h1v1h-1zM545 495h1v1h-1zM551 495h1v1h-1zM557 495h1v1h-1zM563 495h1v1h-1zM569 495h1v1h-1zM575 495h1v1h-1zM581 495h1v1h-1zM587 495h1v1h-1zM593 495h1v1h-1zM599 495h1v1h-1zM605 495h1v1h-1zM611 495h1v1h-1zM617 495h1v1h-1zM623 495h1v1h-1zM629 495h1v1h-1zM635 495h1v1h-1zM641 495h1v1h-1zM647 495h1v1h-1zM653 495h1v1h-1zM659 495h1v1h-1zM665 495h1v1h-1zM671 495h1v1h-1zM677 495h1v1h-1zM683 495h1v1h-1zM689 495h1v1h-1zM695 495h1v1h-1zM701 495h1v1h-1zM707 495h1v1h-1zM713 495h1v1h-1zM719 495h1v1h-1zM725 495h1v1h-1zM731 495h1v1h-1zM737 495h1v1h-1zM743 495h1v1h-1zM749 495h1v1h-1zM755 495h1v1h-1zM761 495h1v1h-1zM767 495h1v1h-1zM773 495h1v1h-1zM779 495h1v1h-1zM785 495h1v1h-1zM791 495h1v1h-1zM797 495h1v1h-1zM803 495h1v1h-1zM809 495h1v1h-1zM815 495h1v1h-1zM821 495h1v1h-1zM827 495h1v1h-1zM833 495h1v1h-1zM839 495h1v1h-1zM845 495h1v1h-1zM851 495h1v1h-1zM857 495h1v1h-1zM863 495h1v1h-1zM869 495h1v1h-1zM875 495h1v1h-1zM881 495h1v1h-1zM887 495h1v1h-1zM893 495h1v1h-1zM899 495h1v1h-1zM905 495h1v1h-1zM911 495h1v1h-1zM917 495h1v1h-1zM923 495h1v1h-1zM929 495h1v1h-1zM935 495h1v1h-1zM941 495h1v1h-1zM947 495h1v1h-1zM953 495h1v1h-1zM959 495h1v1h-1zM965 495h1v1h-1zM971 495h1v1h-1zM977 495h1v1h-1zM983 495h1v1h-1zM989 495h1v1h-1zM995 495h1v1h-1zM1001 495h1v1h-1zM1007 495h1v1h-1zM1013 495h1v1h-1zM1019 495h1v1h-1zM1025 495h1v1h-1zM1031 495h1v1h-1zM1037 495h1v1h-1zM1043 495h1v1h-1zM1049 495h1v1h-1zM1055 495h1v1h-1zM1061 495h1v1h-1zM1067 495h1v1h-1zM1073 495h1v1h-1zM1079 495h1v1h-1zM1085 495h1v1h-1zM1091 495h1v1h-1zM1097 495h1v1h-1zM1103 495h1v1h-1zM1109 495h1v1h-1zM1115 495h1v1h-1zM1121 495h1v1h-1zM1127 495h1v1h-1zM1133 495h1v1h-1zM1139 495h1v1h-1zM1145 495h1v1h-1zM71 530h1v1h-1zM77 530h1v1h-1zM83 530h1v1h-1zM89 530h1v1h-1zM95 530h1v1h-1zM101 530h1v1h-1zM107 530h1v1h-1zM113 530h1v1h-1zM119 530h1v1h-1zM125 530h1v1h-1zM131 530h1v1h-1zM137 530h1v1h-1zM143 530h1v1h-1zM149 530h1v1h-1zM155 530h1v1h-1zM161 530h1v1h-1zM167 530h1v1h-1zM173 530h1v1h-1zM179 530h1v1h-1zM185 530h1v1h-1zM191 530h1v1h-1zM197 530h1v1h-1zM203 530h1v1h-1zM209 530h1v1h-1zM215 530h1v1h-1zM221 530h1v1h-1zM227 530h1v1h-1zM233 530h1v1h-1zM239 530h1v1h-1zM245 530h1v1h-1zM251 530h1v1h-1zM257 530h1v1h-1zM263 530h1v1h-1zM269 530h1v1h-1zM275 530h1v1h-1zM281 530h1v1h-1zM287 530h1v1h-1zM293 530h1v1h-1zM299 530h1v1h-1zM305 530h1v1h-1zM311 530h1v1h-1zM317 530h1v1h-1zM323 530h1v1h-1zM329 530h1v1h-1zM335 530h1v1h-1zM341 530h1v1h-1zM347 530h1v1h-1zM353 530h1v1h-1zM359 530h1v1h-1zM365 530h1v1h-1zM371 530h1v1h-1zM377 530h1v1h-1zM383 530h1v1h-1zM389 530h1v1h-1zM395 530h1v1h-1zM401 530h1v1h-1zM407 530h1v1h-1zM413 530h1v1h-1zM419 530h1v1h-1zM425 530h1v1h-1zM431 530h1v1h-1zM437 530h1v1h-1zM443 530h1v1h-1zM449 530h1v1h-1zM455 530h1v1h-1zM461 530h1v1h-1zM467 530h1v1h-1zM473 530h1v1h-1zM479 530h1v1h-1zM485 530h1v1h-1zM491 530h1v1h-1zM497 530h1v1h-1zM503 530h1v1h-1zM509 530h1v1h-1zM515 530h1v1h-1zM521 530h1v1h-1zM527 530h1v1h-1zM533 530h1v1h-1zM539 530h1v1h-1zM545 530h1v1h-1zM551 530h1v1h-1zM557 530h1v1h-1zM563 530h1v1h-1zM569 530h1v1h-1zM575 530h1v1h-1zM581 530h1v1h-1zM587 530h1v1h-1zM593 530h1v1h-1zM599 530h1v1h-1zM605 530h1v1h-1zM611 530h1v1h-1zM617 530h1v1h-1zM623 530h1v1h-1zM629 530h1v1h-1zM635 530h1v1h-1zM641 530h1v1h-1zM647 530h1v1h-1zM653 530h1v1h-1zM659 530h1v1h-1zM665 530h1v1h-1zM671 530h1v1h-1zM677 530h1v1h-1zM683 530h1v1h-1zM689 530h1v1h-1zM695 530h1v1h-1zM701 530h1v1h-1zM707 530h1v1h-1zM713 530h1v1h-1zM719 530h1v1h-1zM725 530h1v1h-1zM731 530h1v1h-1zM737 530h1v1h-1zM743 530h1v1h-1zM749 530h1v1h-1zM755 530h1v1h-1zM761 530h1v1h-1zM767 530h1v1h-1zM773 530h1v1h-1zM779 530h1v1h-1zM785 530h1v1h-1zM791 530h1v1h-1zM797 530h1v1h-1zM803 530h1v1h-1zM809 530h1v1h-1zM815 530h1v1h-1zM821 530h1v1h-1zM827 530h1v1h-1zM833 530h1v1h-1zM839 530h1v1h-1zM845 530h1v1h-1zM851 530h1v1h-1zM857 530h1v1h-1zM863 530h1v1h-1zM869 530h1v1h-1zM875 530h1v1h-1zM881 530h1v1h-1zM887 530h1v1h-1zM893 530h1v1h-1zM899 530h1v1h-1zM905 530h1v1h-1zM911 530h1v1h-1zM917 530h1v1h-1zM923 530h1v1h-1zM929 530h1v1h-1zM935 530h1v1h-1zM941 530h1v1h-1zM947 530h1v1h-1zM953 530h1v1h-1zM959 530h1v1h-1zM965 530h1v1h-1zM971 530h1v1h-1zM977 530h1v1h-1zM983 530h1v1h-1zM989 530h1v1h-1zM995 530h1v1h-1zM1001 530h1v1h-1zM1007 530h1v1h-1zM1013 530h1v1h-1zM1019 530h1v1h-1zM1025 530h1v1h-1zM1031 530h1v1h-1zM1037 530h1v1h-1zM1043 530h1v1h-1zM1049 530h1v1h-1zM1055 530h1v1h-1zM1061 530h1v1h-1zM1067 530h1v1h-1zM1073 530h1v1h-1zM1079 530h1v1h-1zM1085 530h1v1h-1zM1091 530h1v1h-1zM1097 530h1v1h-1zM1103 530h1v1h-1zM1109 530h1v1h-1zM1115 530h1v1h-1zM1121 530h1v1h-1zM1127 530h1v1h-1zM1133 530h1v1h-1zM1139 530h1v1h-1zM1145 530h1v1h-1zM78 25h1v1h-1zM78 31h1v1h-1zM78 37h1v1h-1zM78 43h1v1h-1zM78 49h1v1h-1zM78 55h1v1h-1zM78 61h1v1h-1zM78 67h1v1h-1zM78 73h1v1h-1zM78 79h1v1h-1zM78 85h1v1h-1zM78 91h1v1h-1zM78 97h1v1h-1zM78 103h1v1h-1zM78 109h1v1h-1zM78 115h1v1h-1zM78 121h1v1h-1zM78 127h1v1h-1zM78 133h1v1h-1zM78 139h1v1h-1zM78 145h1v1h-1zM78 151h1v1h-1zM78 157h1v1h-1zM78 163h1v1h-1zM78 169h1v1h-1zM78 175h1v1h-1zM78 181h1v1h-1zM78 187h1v1h-1zM78 193h1v1h-1zM78 199h1v1h-1zM78 205h1v1h-1zM78 211h1v1h-1zM78 217h1v1h-1zM78 223h1v1h-1zM78 229h1v1h-1zM78 235h1v1h-1zM78 241h1v1h-1zM78 247h1v1h-1zM78 253h1v1h-1zM78 259h1v1h-1zM78 265h1v1h-1zM78 271h1v1h-1zM78 277h1v1h-1zM78 283h1v1h-1zM78 289h1v1h-1zM78 295h1v1h-1zM78 301h1v1h-1zM78 307h1v1h-1zM78 313h1v1h-1zM78 319h1v1h-1zM78 325h1v1h-1zM78 331h1v1h-1zM78 337h1v1h-1zM78 343h1v1h-1zM78 349h1v1h-1zM78 355h1v1h-1zM78 361h1v1h-1zM78 367h1v1h-1zM78 373h1v1h-1zM78 379h1v1h-1zM78 385h1v1h-1zM78 391h1v1h-1zM78 397h1v1h-1zM78 403h1v1h-1zM78 409h1v1h-1zM78 415h1v1h-1zM78 421h1v1h-1zM78 427h1v1h-1zM78 433h1v1h-1zM78 440h1v1h-1zM78 446h1v1h-1zM78 452h1v1h-1zM78 458h1v1h-1zM78 464h1v1h-1zM78 470h1v1h-1zM78 476h1v1h-1zM78 482h1v1h-1zM78 488h1v1h-1zM78 494h1v1h-1zM78 500h1v1h-1zM78 506h1v1h-1zM78 512h1v1h-1zM78 518h1v1h-1zM78 524h1v1h-1zM78 530h1v1h-1zM131 25h1v1h-1zM131 31h1v1h-1zM131 37h1v1h-1zM131 43h1v1h-1zM131 49h1v1h-1zM131 55h1v1h-1zM131 61h1v1h-1zM131 67h1v1h-1zM131 73h1v1h-1zM131 79h1v1h-1zM131 85h1v1h-1zM131 91h1v1h-1zM131 97h1v1h-1zM131 103h1v1h-1zM131 109h1v1h-1zM131 115h1v1h-1zM131 121h1v1h-1zM131 127h1v1h-1zM131 133h1v1h-1zM131 139h1v1h-1zM131 145h1v1h-1zM131 151h1v1h-1zM131 157h1v1h-1zM131 163h1v1h-1zM131 169h1v1h-1zM131 175h1v1h-1zM131 181h1v1h-1zM131 187h1v1h-1zM131 193h1v1h-1zM131 199h1v1h-1zM131 205h1v1h-1zM131 211h1v1h-1zM131 217h1v1h-1zM131 223h1v1h-1zM131 229h1v1h-1zM131 235h1v1h-1zM131 241h1v1h-1zM131 247h1v1h-1zM131 253h1v1h-1zM131 259h1v1h-1zM131 265h1v1h-1zM131 271h1v1h-1zM131 277h1v1h-1zM131 283h1v1h-1zM131 289h1v1h-1zM131 295h1v1h-1zM131 301h1v1h-1zM131 307h1v1h-1zM131 313h1v1h-1zM131 319h1v1h-1zM131 325h1v1h-1zM131 331h1v1h-1zM131 337h1v1h-1zM131 343h1v1h-1zM131 349h1v1h-1zM131 355h1v1h-1zM131 361h1v1h-1zM131 367h1v1h-1zM131 373h1v1h-1zM131 379h1v1h-1zM131 385h1v1h-1zM131 391h1v1h-1zM131 397h1v1h-1zM131 403h1v1h-1zM131 409h1v1h-1zM131 415h1v1h-1zM131 421h1v1h-1zM131 427h1v1h-1zM131 433h1v1h-1zM131 440h1v1h-1zM131 446h1v1h-1zM131 452h1v1h-1zM131 458h1v1h-1zM131 464h1v1h-1zM131 470h1v1h-1zM131 476h1v1h-1zM131 482h1v1h-1zM131 488h1v1h-1zM131 494h1v1h-1zM131 500h1v1h-1zM131 506h1v1h-1zM131 512h1v1h-1zM131 518h1v1h-1zM131 524h1v1h-1zM131 530h1v1h-1zM185 25h1v1h-1zM185 31h1v1h-1zM185 37h1v1h-1zM185 43h1v1h-1zM185 49h1v1h-1zM185 55h1v1h-1zM185 61h1v1h-1zM185 67h1v1h-1zM185 73h1v1h-1zM185 79h1v1h-1zM185 85h1v1h-1zM185 91h1v1h-1zM185 97h1v1h-1zM185 103h1v1h-1zM185 109h1v1h-1zM185 115h1v1h-1zM185 121h1v1h-1zM185 127h1v1h-1zM185 133h1v1h-1zM185 139h1v1h-1zM185 145h1v1h-1zM185 151h1v1h-1zM185 157h1v1h-1zM185 163h1v1h-1zM185 169h1v1h-1zM185 175h1v1h-1zM185 181h1v1h-1zM185 187h1v1h-1zM185 193h1v1h-1zM185 199h1v1h-1zM185 205h1v1h-1zM185 211h1v1h-1zM185 217h1v1h-1zM185 223h1v1h-1zM185 229h1v1h-1zM185 235h1v1h-1zM185 241h1v1h-1zM185 247h1v1h-1zM185 253h1v1h-1zM185 259h1v1h-1zM185 265h1v1h-1zM185 271h1v1h-1zM185 277h1v1h-1zM185 283h1v1h-1zM185 289h1v1h-1zM185 295h1v1h-1zM185 301h1v1h-1zM185 307h1v1h-1zM185 313h1v1h-1zM185 319h1v1h-1zM185 325h1v1h-1zM185 331h1v1h-1zM185 337h1v1h-1zM185 343h1v1h-1zM185 349h1v1h-1zM185 355h1v1h-1zM185 361h1v1h-1zM185 367h1v1h-1zM185 373h1v1h-1zM185 379h1v1h-1zM185 385h1v1h-1zM185 391h1v1h-1zM185 397h1v1h-1zM185 403h1v1h-1zM185 409h1v1h-1zM185 415h1v1h-1zM185 421h1v1h-1zM185 427h1v1h-1zM185 433h1v1h-1zM185 440h1v1h-1zM185 446h1v1h-1zM185 452h1v1h-1zM185 458h1v1h-1zM185 464h1v1h-1zM185 470h1v1h-1zM185 476h1v1h-1zM185 482h1v1h-1zM185 488h1v1h-1zM185 494h1v1h-1zM185 500h1v1h-1zM185 506h1v1h-1zM185 512h1v1h-1zM185 518h1v1h-1zM185 524h1v1h-1zM185 530h1v1h-1zM239 25h1v1h-1zM239 31h1v1h-1zM239 37h1v1h-1zM239 43h1v1h-1zM239 49h1v1h-1zM239 55h1v1h-1zM239 61h1v1h-1zM239 67h1v1h-1zM239 73h1v1h-1zM239 79h1v1h-1zM239 85h1v1h-1zM239 91h1v1h-1zM239 97h1v1h-1zM239 103h1v1h-1zM239 109h1v1h-1zM239 115h1v1h-1zM239 121h1v1h-1zM239 127h1v1h-1zM239 133h1v1h-1zM239 139h1v1h-1zM239 145h1v1h-1zM239 151h1v1h-1zM239 157h1v1h-1zM239 163h1v1h-1zM239 169h1v1h-1zM239 175h1v1h-1zM239 181h1v1h-1zM239 187h1v1h-1zM239 193h1v1h-1zM239 199h1v1h-1zM239 205h1v1h-1zM239 211h1v1h-1zM239 217h1v1h-1zM239 223h1v1h-1zM239 229h1v1h-1zM239 235h1v1h-1zM239 241h1v1h-1zM239 247h1v1h-1zM239 253h1v1h-1zM239 259h1v1h-1zM239 265h1v1h-1zM239 271h1v1h-1zM239 277h1v1h-1zM239 283h1v1h-1zM239 289h1v1h-1zM239 295h1v1h-1zM239 301h1v1h-1zM239 307h1v1h-1zM239 313h1v1h-1zM239 319h1v1h-1zM239 325h1v1h-1zM239 331h1v1h-1zM239 337h1v1h-1zM239 343h1v1h-1zM239 349h1v1h-1zM239 355h1v1h-1zM239 361h1v1h-1zM239 367h1v1h-1zM239 373h1v1h-1zM239 379h1v1h-1zM239 385h1v1h-1zM239 391h1v1h-1zM239 397h1v1h-1zM239 403h1v1h-1zM239 409h1v1h-1zM239 415h1v1h-1zM239 421h1v1h-1zM239 427h1v1h-1zM239 433h1v1h-1zM239 440h1v1h-1zM239 446h1v1h-1zM239 452h1v1h-1zM239 458h1v1h-1zM239 464h1v1h-1zM239 470h1v1h-1zM239 476h1v1h-1zM239 482h1v1h-1zM239 488h1v1h-1zM239 494h1v1h-1zM239 500h1v1h-1zM239 506h1v1h-1zM239 512h1v1h-1zM239 518h1v1h-1zM239 524h1v1h-1zM239 530h1v1h-1zM292 25h1v1h-1zM292 31h1v1h-1zM292 37h1v1h-1zM292 43h1v1h-1zM292 49h1v1h-1zM292 55h1v1h-1zM292 61h1v1h-1zM292 67h1v1h-1zM292 73h1v1h-1zM292 79h1v1h-1zM292 85h1v1h-1zM292 91h1v1h-1zM292 97h1v1h-1zM292 103h1v1h-1zM292 109h1v1h-1zM292 115h1v1h-1zM292 121h1v1h-1zM292 127h1v1h-1zM292 133h1v1h-1zM292 139h1v1h-1zM292 145h1v1h-1zM292 151h1v1h-1zM292 157h1v1h-1zM292 163h1v1h-1zM292 169h1v1h-1zM292 175h1v1h-1zM292 181h1v1h-1zM292 187h1v1h-1zM292 193h1v1h-1zM292 199h1v1h-1zM292 205h1v1h-1zM292 211h1v1h-1zM292 217h1v1h-1zM292 223h1v1h-1zM292 229h1v1h-1zM292 235h1v1h-1zM292 241h1v1h-1zM292 247h1v1h-1zM292 253h1v1h-1zM292 259h1v1h-1zM292 265h1v1h-1zM292 271h1v1h-1zM292 277h1v1h-1zM292 283h1v1h-1zM292 289h1v1h-1zM292 295h1v1h-1zM292 301h1v1h-1zM292 307h1v1h-1zM292 313h1v1h-1zM292 319h1v1h-1zM292 325h1v1h-1zM292 331h1v1h-1zM292 337h1v1h-1zM292 343h1v1h-1zM292 349h1v1h-1zM292 355h1v1h-1zM292 361h1v1h-1zM292 367h1v1h-1zM292 373h1v1h-1zM292 379h1v1h-1zM292 385h1v1h-1zM292 391h1v1h-1zM292 397h1v1h-1zM292 403h1v1h-1zM292 409h1v1h-1zM292 415h1v1h-1zM292 421h1v1h-1zM292 427h1v1h-1zM292 433h1v1h-1zM292 440h1v1h-1zM292 446h1v1h-1zM292 452h1v1h-1zM292 458h1v1h-1zM292 464h1v1h-1zM292 470h1v1h-1zM292 476h1v1h-1zM292 482h1v1h-1zM292 488h1v1h-1zM292 494h1v1h-1zM292 500h1v1h-1zM292 506h1v1h-1zM292 512h1v1h-1zM292 518h1v1h-1zM292 524h1v1h-1zM292 530h1v1h-1zM346 25h1v1h-1zM346 31h1v1h-1zM346 37h1v1h-1zM346 43h1v1h-1zM346 49h1v1h-1zM346 55h1v1h-1zM346 61h1v1h-1zM346 67h1v1h-1zM346 73h1v1h-1zM346 79h1v1h-1zM346 85h1v1h-1zM346 91h1v1h-1zM346 97h1v1h-1zM346 103h1v1h-1zM346 109h1v1h-1zM346 115h1v1h-1zM346 121h1v1h-1zM346 127h1v1h-1zM346 133h1v1h-1zM346 139h1v1h-1zM346 145h1v1h-1zM346 151h1v1h-1zM346 157h1v1h-1zM346 163h1v1h-1zM346 169h1v1h-1zM346 175h1v1h-1zM346 181h1v1h-1zM346 187h1v1h-1zM346 193h1v1h-1zM346 199h1v1h-1zM346 205h1v1h-1zM346 211h1v1h-1zM346 217h1v1h-1zM346 223h1v1h-1zM346 229h1v1h-1zM346 235h1v1h-1zM346 241h1v1h-1zM346 247h1v1h-1zM346 253h1v1h-1zM346 259h1v1h-1zM346 265h1v1h-1zM346 271h1v1h-1zM346 277h1v1h-1zM346 283h1v1h-1zM346 289h1v1h-1zM346 295h1v1h-1zM346 301h1v1h-1zM346 307h1v1h-1zM346 313h1v1h-1zM346 319h1v1h-1zM346 325h1v1h-1zM346 331h1v1h-1zM346 337h1v1h-1zM346 343h1v1h-1zM346 349h1v1h-1zM346 355h1v1h-1zM346 361h1v1h-1zM346 367h1v1h-1zM346 373h1v1h-1zM346 379h1v1h-1zM346 385h1v1h-1zM346 391h1v1h-1zM346 397h1v1h-1zM346 403h1v1h-1zM346 409h1v1h-1zM346 415h1v1h-1zM346 421h1v1h-1zM346 427h1v1h-1zM346 433h1v1h-1zM346 440h1v1h-1zM346 446h1v1h-1zM346 452h1v1h-1zM346 458h1v1h-1zM346 464h1v1h-1zM346 470h1v1h-1zM346 476h1v1h-1zM346 482h1v1h-1zM346 488h1v1h-1zM346 494h1v1h-1zM346 500h1v1h-1zM346 506h1v1h-1zM346 512h1v1h-1zM346 518h1v1h-1zM346 524h1v1h-1zM346 530h1v1h-1zM400 25h1v1h-1zM400 31h1v1h-1zM400 37h1v1h-1zM400 43h1v1h-1zM400 49h1v1h-1zM400 55h1v1h-1zM400 61h1v1h-1zM400 67h1v1h-1zM400 73h1v1h-1zM400 79h1v1h-1zM400 85h1v1h-1zM400 91h1v1h-1zM400 97h1v1h-1zM400 103h1v1h-1zM400 109h1v1h-1zM400 115h1v1h-1zM400 121h1v1h-1zM400 127h1v1h-1zM400 133h1v1h-1zM400 139h1v1h-1zM400 145h1v1h-1zM400 151h1v1h-1zM400 157h1v1h-1zM400 163h1v1h-1zM400 169h1v1h-1zM400 175h1v1h-1zM400 181h1v1h-1zM400 187h1v1h-1zM400 193h1v1h-1zM400 199h1v1h-1zM400 205h1v1h-1zM400 211h1v1h-1zM400 217h1v1h-1zM400 223h1v1h-1zM400 229h1v1h-1zM400 235h1v1h-1zM400 241h1v1h-1zM400 247h1v1h-1zM400 253h1v1h-1zM400 259h1v1h-1zM400 265h1v1h-1zM400 271h1v1h-1zM400 277h1v1h-1zM400 283h1v1h-1zM400 289h1v1h-1zM400 295h1v1h-1zM400 301h1v1h-1zM400 307h1v1h-1zM400 313h1v1h-1zM400 319h1v1h-1zM400 325h1v1h-1zM400 331h1v1h-1zM400 337h1v1h-1zM400 343h1v1h-1zM400 349h1v1h-1zM400 355h1v1h-1zM400 361h1v1h-1zM400 367h1v1h-1zM400 373h1v1h-1zM400 379h1v1h-1zM400 385h1v1h-1zM400 391h1v1h-1zM400 397h1v1h-1zM400 403h1v1h-1zM400 409h1v1h-1zM400 415h1v1h-1zM400 421h1v1h-1zM400 427h1v1h-1zM400 433h1v1h-1zM400 440h1v1h-1zM400 446h1v1h-1zM400 452h1v1h-1zM400 458h1v1h-1zM400 464h1v1h-1zM400 470h1v1h-1zM400 476h1v1h-1zM400 482h1v1h-1zM400 488h1v1h-1zM400 494h1v1h-1zM400 500h1v1h-1zM400 506h1v1h-1zM400 512h1v1h-1zM400 518h1v1h-1zM400 524h1v1h-1zM400 530h1v1h-1zM453 25h1v1h-1zM453 31h1v1h-1zM453 37h1v1h-1zM453 43h1v1h-1zM453 49h1v1h-1zM453 55h1v1h-1zM453 61h1v1h-1zM453 67h1v1h-1zM453 73h1v1h-1zM453 79h1v1h-1zM453 85h1v1h-1zM453 91h1v1h-1zM453 97h1v1h-1zM453 103h1v1h-1zM453 109h1v1h-1zM453 115h1v1h-1zM453 121h1v1h-1zM453 127h1v1h-1zM453 133h1v1h-1zM453 139h1v1h-1zM453 145h1v1h-1zM453 151h1v1h-1zM453 157h1v1h-1zM453 163h1v1h-1zM453 169h1v1h-1zM453 175h1v1h-1zM453 181h1v1h-1zM453 187h1v1h-1zM453 193h1v1h-1zM453 199h1v1h-1zM453 205h1v1h-1zM453 211h1v1h-1zM453 217h1v1h-1zM453 223h1v1h-1zM453 229h1v1h-1zM453 235h1v1h-1zM453 241h1v1h-1zM453 247h1v1h-1zM453 253h1v1h-1zM453 259h1v1h-1zM453 265h1v1h-1zM453 271h1v1h-1zM453 277h1v1h-1zM453 283h1v1h-1zM453 289h1v1h-1zM453 295h1v1h-1zM453 301h1v1h-1zM453 307h1v1h-1zM453 313h1v1h-1zM453 319h1v1h-1zM453 325h1v1h-1zM453 331h1v1h-1zM453 337h1v1h-1zM453 343h1v1h-1zM453 349h1v1h-1zM453 355h1v1h-1zM453 361h1v1h-1zM453 367h1v1h-1zM453 373h1v1h-1zM453 379h1v1h-1zM453 385h1v1h-1zM453 391h1v1h-1zM453 397h1v1h-1zM453 403h1v1h-1zM453 409h1v1h-1zM453 415h1v1h-1zM453 421h1v1h-1zM453 427h1v1h-1zM453 433h1v1h-1zM453 440h1v1h-1zM453 446h1v1h-1zM453 452h1v1h-1zM453 458h1v1h-1zM453 464h1v1h-1zM453 470h1v1h-1zM453 476h1v1h-1zM453 482h1v1h-1zM453 488h1v1h-1zM453 494h1v1h-1zM453 500h1v1h-1zM453 506h1v1h-1zM453 512h1v1h-1zM453 518h1v1h-1zM453 524h1v1h-1zM453 530h1v1h-1zM507 25h1v1h-1zM507 31h1v1h-1zM507 37h1v1h-1zM507 43h1v1h-1zM507 49h1v1h-1zM507 55h1v1h-1zM507 61h1v1h-1zM507 67h1v1h-1zM507 73h1v1h-1zM507 79h1v1h-1zM507 85h1v1h-1zM507 91h1v1h-1zM507 97h1v1h-1zM507 103h1v1h-1zM507 109h1v1h-1zM507 115h1v1h-1zM507 121h1v1h-1zM507 127h1v1h-1zM507 133h1v1h-1zM507 139h1v1h-1zM507 145h1v1h-1zM507 151h1v1h-1zM507 157h1v1h-1zM507 163h1v1h-1zM507 169h1v1h-1zM507 175h1v1h-1zM507 181h1v1h-1zM507 187h1v1h-1zM507 193h1v1h-1zM507 199h1v1h-1zM507 205h1v1h-1zM507 211h1v1h-1zM507 217h1v1h-1zM507 223h1v1h-1zM507 229h1v1h-1zM507 235h1v1h-1zM507 241h1v1h-1zM507 247h1v1h-1zM507 253h1v1h-1zM507 259h1v1h-1zM507 265h1v1h-1zM507 271h1v1h-1zM507 277h1v1h-1zM507 283h1v1h-1zM507 289h1v1h-1zM507 295h1v1h-1zM507 301h1v1h-1zM507 307h1v1h-1zM507 313h1v1h-1zM507 319h1v1h-1zM507 325h1v1h-1zM507 331h1v1h-1zM507 337h1v1h-1zM507 343h1v1h-1zM507 349h1v1h-1zM507 355h1v1h-1zM507 361h1v1h-1zM507 367h1v1h-1zM507 373h1v1h-1zM507 379h1v1h-1zM507 385h1v1h-1zM507 391h1v1h-1zM507 397h1v1h-1zM507 403h1v1h-1zM507 409h1v1h-1zM507 415h1v1h-1zM507 421h1v1h-1zM507 427h1v1h-1zM507 433h1v1h-1zM507 440h1v1h-1zM507 446h1v1h-1zM507 452h1v1h-1zM507 458h1v1h-1zM507 464h1v1h-1zM507 470h1v1h-1zM507 476h1v1h-1zM507 482h1v1h-1zM507 488h1v1h-1zM507 494h1v1h-1zM507 500h1v1h-1zM507 506h1v1h-1zM507 512h1v1h-1zM507 518h1v1h-1zM507 524h1v1h-1zM507 530h1v1h-1zM561 25h1v1h-1zM561 31h1v1h-1zM561 37h1v1h-1zM561 43h1v1h-1zM561 49h1v1h-1zM561 55h1v1h-1zM561 61h1v1h-1zM561 67h1v1h-1zM561 73h1v1h-1zM561 79h1v1h-1zM561 85h1v1h-1zM561 91h1v1h-1zM561 97h1v1h-1zM561 103h1v1h-1zM561 109h1v1h-1zM561 115h1v1h-1zM561 121h1v1h-1zM561 127h1v1h-1zM561 133h1v1h-1zM561 139h1v1h-1zM561 145h1v1h-1zM561 151h1v1h-1zM561 157h1v1h-1zM561 163h1v1h-1zM561 169h1v1h-1zM561 175h1v1h-1zM561 181h1v1h-1zM561 187h1v1h-1zM561 193h1v1h-1zM561 199h1v1h-1zM561 205h1v1h-1zM561 211h1v1h-1zM561 217h1v1h-1zM561 223h1v1h-1zM561 229h1v1h-1zM561 235h1v1h-1zM561 241h1v1h-1zM561 247h1v1h-1zM561 253h1v1h-1zM561 259h1v1h-1zM561 265h1v1h-1zM561 271h1v1h-1zM561 277h1v1h-1zM561 283h1v1h-1zM561 289h1v1h-1zM561 295h1v1h-1zM561 301h1v1h-1zM561 307h1v1h-1zM561 313h1v1h-1zM561 319h1v1h-1zM561 325h1v1h-1zM561 331h1v1h-1zM561 337h1v1h-1zM561 343h1v1h-1zM561 349h1v1h-1zM561 355h1v1h-1zM561 361h1v1h-1zM561 367h1v1h-1zM561 373h1v1h-1zM561 379h1v1h-1zM561 385h1v1h-1zM561 391h1v1h-1zM561 397h1v1h-1zM561 403h1v1h-1zM561 409h1v1h-1zM561 415h1v1h-1zM561 421h1v1h-1zM561 427h1v1h-1zM561 433h1v1h-1zM561 440h1v1h-1zM561 446h1v1h-1zM561 452h1v1h-1zM561 458h1v1h-1zM561 464h1v1h-1zM561 470h1v1h-1zM561 476h1v1h-1zM561 482h1v1h-1zM561 488h1v1h-1zM561 494h1v1h-1zM561 500h1v1h-1zM561 506h1v1h-1zM561 512h1v1h-1zM561 518h1v1h-1zM561 524h1v1h-1zM561 530h1v1h-1zM615 25h1v1h-1zM615 31h1v1h-1zM615 37h1v1h-1zM615 43h1v1h-1zM615 49h1v1h-1zM615 55h1v1h-1zM615 61h1v1h-1zM615 67h1v1h-1zM615 73h1v1h-1zM615 79h1v1h-1zM615 85h1v1h-1zM615 91h1v1h-1zM615 97h1v1h-1zM615 103h1v1h-1zM615 109h1v1h-1zM615 115h1v1h-1zM615 121h1v1h-1zM615 127h1v1h-1zM615 133h1v1h-1zM615 139h1v1h-1zM615 145h1v1h-1zM615 151h1v1h-1zM615 157h1v1h-1zM615 163h1v1h-1zM615 169h1v1h-1zM615 175h1v1h-1zM615 181h1v1h-1zM615 187h1v1h-1zM615 193h1v1h-1zM615 199h1v1h-1zM615 205h1v1h-1zM615 211h1v1h-1zM615 217h1v1h-1zM615 223h1v1h-1zM615 229h1v1h-1zM615 235h1v1h-1zM615 241h1v1h-1zM615 247h1v1h-1zM615 253h1v1h-1zM615 259h1v1h-1zM615 265h1v1h-1zM615 271h1v1h-1zM615 277h1v1h-1zM615 283h1v1h-1zM615 289h1v1h-1zM615 295h1v1h-1zM615 301h1v1h-1zM615 307h1v1h-1zM615 313h1v1h-1zM615 319h1v1h-1zM615 325h1v1h-1zM615 331h1v1h-1zM615 337h1v1h-1zM615 343h1v1h-1zM615 349h1v1h-1zM615 355h1v1h-1zM615 361h1v1h-1zM615 367h1v1h-1zM615 373h1v1h-1zM615 379h1v1h-1zM615 385h1v1h-1zM615 391h1v1h-1zM615 397h1v1h-1zM615 403h1v1h-1zM615 409h1v1h-1zM615 415h1v1h-1zM615 421h1v1h-1zM615 427h1v1h-1zM615 433h1v1h-1zM615 440h1v1h-1zM615 446h1v1h-1zM615 452h1v1h-1zM615 458h1v1h-1zM615 464h1v1h-1zM615 470h1v1h-1zM615 476h1v1h-1zM615 482h1v1h-1zM615 488h1v1h-1zM615 494h1v1h-1zM615 500h1v1h-1zM615 506h1v1h-1zM615 512h1v1h-1zM615 518h1v1h-1zM615 524h1v1h-1zM615 530h1v1h-1zM668 25h1v1h-1zM668 31h1v1h-1zM668 37h1v1h-1zM668 43h1v1h-1zM668 49h1v1h-1zM668 55h1v1h-1zM668 61h1v1h-1zM668 67h1v1h-1zM668 73h1v1h-1zM668 79h1v1h-1zM668 85h1v1h-1zM668 91h1v1h-1zM668 97h1v1h-1zM668 103h1v1h-1zM668 109h1v1h-1zM668 115h1v1h-1zM668 121h1v1h-1zM668 127h1v1h-1zM668 133h1v1h-1zM668 139h1v1h-1zM668 145h1v1h-1zM668 151h1v1h-1zM668 157h1v1h-1zM668 163h1v1h-1zM668 169h1v1h-1zM668 175h1v1h-1zM668 181h1v1h-1zM668 187h1v1h-1zM668 193h1v1h-1zM668 199h1v1h-1zM668 205h1v1h-1zM668 211h1v1h-1zM668 217h1v1h-1zM668 223h1v1h-1zM668 229h1v1h-1zM668 235h1v1h-1zM668 241h1v1h-1zM668 247h1v1h-1zM668 253h1v1h-1zM668 259h1v1h-1zM668 265h1v1h-1zM668 271h1v1h-1zM668 277h1v1h-1zM668 283h1v1h-1zM668 289h1v1h-1zM668 295h1v1h-1zM668 301h1v1h-1zM668 307h1v1h-1zM668 313h1v1h-1zM668 319h1v1h-1zM668 325h1v1h-1zM668 331h1v1h-1zM668 337h1v1h-1zM668 343h1v1h-1zM668 349h1v1h-1zM668 355h1v1h-1zM668 361h1v1h-1zM668 367h1v1h-1zM668 373h1v1h-1zM668 379h1v1h-1zM668 385h1v1h-1zM668 391h1v1h-1zM668 397h1v1h-1zM668 403h1v1h-1zM668 409h1v1h-1zM668 415h1v1h-1zM668 421h1v1h-1zM668 427h1v1h-1zM668 433h1v1h-1zM668 440h1v1h-1zM668 446h1v1h-1zM668 452h1v1h-1zM668 458h1v1h-1zM668 464h1v1h-1zM668 470h1v1h-1zM668 476h1v1h-1zM668 482h1v1h-1zM668 488h1v1h-1zM668 494h1v1h-1zM668 500h1v1h-1zM668 506h1v1h-1zM668 512h1v1h-1zM668 518h1v1h-1zM668 524h1v1h-1zM668 530h1v1h-1zM722 25h1v1h-1zM722 31h1v1h-1zM722 37h1v1h-1zM722 43h1v1h-1zM722 49h1v1h-1zM722 55h1v1h-1zM722 61h1v1h-1zM722 67h1v1h-1zM722 73h1v1h-1zM722 79h1v1h-1zM722 85h1v1h-1zM722 91h1v1h-1zM722 97h1v1h-1zM722 103h1v1h-1zM722 109h1v1h-1zM722 115h1v1h-1zM722 121h1v1h-1zM722 127h1v1h-1zM722 133h1v1h-1zM722 139h1v1h-1zM722 145h1v1h-1zM722 151h1v1h-1zM722 157h1v1h-1zM722 163h1v1h-1zM722 169h1v1h-1zM722 175h1v1h-1zM722 181h1v1h-1zM722 187h1v1h-1zM722 193h1v1h-1zM722 199h1v1h-1zM722 205h1v1h-1zM722 211h1v1h-1zM722 217h1v1h-1zM722 223h1v1h-1zM722 229h1v1h-1zM722 235h1v1h-1zM722 241h1v1h-1zM722 247h1v1h-1zM722 253h1v1h-1zM722 259h1v1h-1zM722 265h1v1h-1zM722 271h1v1h-1zM722 277h1v1h-1zM722 283h1v1h-1zM722 289h1v1h-1zM722 295h1v1h-1zM722 301h1v1h-1zM722 307h1v1h-1zM722 313h1v1h-1zM722 319h1v1h-1zM722 325h1v1h-1zM722 331h1v1h-1zM722 337h1v1h-1zM722 343h1v1h-1zM722 349h1v1h-1zM722 355h1v1h-1zM722 361h1v1h-1zM722 367h1v1h-1zM722 373h1v1h-1zM722 379h1v1h-1zM722 385h1v1h-1zM722 391h1v1h-1zM722 397h1v1h-1zM722 403h1v1h-1zM722 409h1v1h-1zM722 415h1v1h-1zM722 421h1v1h-1zM722 427h1v1h-1zM722 433h1v1h-1zM722 440h1v1h-1zM722 446h1v1h-1zM722 452h1v1h-1zM722 458h1v1h-1zM722 464h1v1h-1zM722 470h1v1h-1zM722 476h1v1h-1zM722 482h1v1h-1zM722 488h1v1h-1zM722 494h1v1h-1zM722 500h1v1h-1zM722 506h1v1h-1zM722 512h1v1h-1zM722 518h1v1h-1zM722 524h1v1h-1zM722 530h1v1h-1zM776 25h1v1h-1zM776 31h1v1h-1zM776 37h1v1h-1zM776 43h1v1h-1zM776 49h1v1h-1zM776 55h1v1h-1zM776 61h1v1h-1zM776 67h1v1h-1zM776 73h1v1h-1zM776 79h1v1h-1zM776 85h1v1h-1zM776 91h1v1h-1zM776 97h1v1h-1zM776 103h1v1h-1zM776 109h1v1h-1zM776 115h1v1h-1zM776 121h1v1h-1zM776 127h1v1h-1zM776 133h1v1h-1zM776 139h1v1h-1zM776 145h1v1h-1zM776 151h1v1h-1zM776 157h1v1h-1zM776 163h1v1h-1zM776 169h1v1h-1zM776 175h1v1h-1zM776 181h1v1h-1zM776 187h1v1h-1zM776 193h1v1h-1zM776 199h1v1h-1zM776 205h1v1h-1zM776 211h1v1h-1zM776 217h1v1h-1zM776 223h1v1h-1zM776 229h1v1h-1zM776 235h1v1h-1zM776 241h1v1h-1zM776 247h1v1h-1zM776 253h1v1h-1zM776 259h1v1h-1zM776 265h1v1h-1zM776 271h1v1h-1zM776 277h1v1h-1zM776 283h1v1h-1zM776 289h1v1h-1zM776 295h1v1h-1zM776 301h1v1h-1zM776 307h1v1h-1zM776 313h1v1h-1zM776 319h1v1h-1zM776 325h1v1h-1zM776 331h1v1h-1zM776 337h1v1h-1zM776 343h1v1h-1zM776 349h1v1h-1zM776 355h1v1h-1zM776 361h1v1h-1zM776 367h1v1h-1zM776 373h1v1h-1zM776 379h1v1h-1zM776 385h1v1h-1zM776 391h1v1h-1zM776 397h1v1h-1zM776 403h1v1h-1zM776 409h1v1h-1zM776 415h1v1h-1zM776 421h1v1h-1zM776 427h1v1h-1zM776 433h1v1h-1zM776 440h1v1h-1zM776 446h1v1h-1zM776 452h1v1h-1zM776 458h1v1h-1zM776 464h1v1h-1zM776 470h1v1h-1zM776 476h1v1h-1zM776 482h1v1h-1zM776 488h1v1h-1zM776 494h1v1h-1zM776 500h1v1h-1zM776 506h1v1h-1zM776 512h1v1h-1zM776 518h1v1h-1zM776 524h1v1h-1zM776 530h1v1h-1zM829 25h1v1h-1zM829 31h1v1h-1zM829 37h1v1h-1zM829 43h1v1h-1zM829 49h1v1h-1zM829 55h1v1h-1zM829 61h1v1h-1zM829 67h1v1h-1zM829 73h1v1h-1zM829 79h1v1h-1zM829 85h1v1h-1zM829 91h1v1h-1zM829 97h1v1h-1zM829 103h1v1h-1zM829 109h1v1h-1zM829 115h1v1h-1zM829 121h1v1h-1zM829 127h1v1h-1zM829 133h1v1h-1zM829 139h1v1h-1zM829 145h1v1h-1zM829 151h1v1h-1zM829 157h1v1h-1zM829 163h1v1h-1zM829 169h1v1h-1zM829 175h1v1h-1zM829 181h1v1h-1zM829 187h1v1h-1zM829 193h1v1h-1zM829 199h1v1h-1zM829 205h1v1h-1zM829 211h1v1h-1zM829 217h1v1h-1zM829 223h1v1h-1zM829 229h1v1h-1zM829 235h1v1h-1zM829 241h1v1h-1zM829 247h1v1h-1zM829 253h1v1h-1zM829 259h1v1h-1zM829 265h1v1h-1zM829 271h1v1h-1zM829 277h1v1h-1zM829 283h1v1h-1zM829 289h1v1h-1zM829 295h1v1h-1zM829 301h1v1h-1zM829 307h1v1h-1zM829 313h1v1h-1zM829 319h1v1h-1zM829 325h1v1h-1zM829 331h1v1h-1zM829 337h1v1h-1zM829 343h1v1h-1zM829 349h1v1h-1zM829 355h1v1h-1zM829 361h1v1h-1zM829 367h1v1h-1zM829 373h1v1h-1zM829 379h1v1h-1zM829 385h1v1h-1zM829 391h1v1h-1zM829 397h1v1h-1zM829 403h1v1h-1zM829 409h1v1h-1zM829 415h1v1h-1zM829 421h1v1h-1zM829 427h1v1h-1zM829 433h1v1h-1zM829 440h1v1h-1zM829 446h1v1h-1zM829 452h1v1h-1zM829 458h1v1h-1zM829 464h1v1h-1zM829 470h1v1h-1zM829 476h1v1h-1zM829 482h1v1h-1zM829 488h1v1h-1zM829 494h1v1h-1zM829 500h1v1h-1zM829 506h1v1h-1zM829 512h1v1h-1zM829 518h1v1h-1zM829 524h1v1h-1zM829 530h1v1h-1zM883 25h1v1h-1zM883 31h1v1h-1zM883 37h1v1h-1zM883 43h1v1h-1zM883 49h1v1h-1zM883 55h1v1h-1zM883 61h1v1h-1zM883 67h1v1h-1zM883 73h1v1h-1zM883 79h1v1h-1zM883 85h1v1h-1zM883 91h1v1h-1zM883 97h1v1h-1zM883 103h1v1h-1zM883 109h1v1h-1zM883 115h1v1h-1zM883 121h1v1h-1zM883 127h1v1h-1zM883 133h1v1h-1zM883 139h1v1h-1zM883 145h1v1h-1zM883 151h1v1h-1zM883 157h1v1h-1zM883 163h1v1h-1zM883 169h1v1h-1zM883 175h1v1h-1zM883 181h1v1h-1zM883 187h1v1h-1zM883 193h1v1h-1zM883 199h1v1h-1zM883 205h1v1h-1zM883 211h1v1h-1zM883 217h1v1h-1zM883 223h1v1h-1zM883 229h1v1h-1zM883 235h1v1h-1zM883 241h1v1h-1zM883 247h1v1h-1zM883 253h1v1h-1zM883 259h1v1h-1zM883 265h1v1h-1zM883 271h1v1h-1zM883 277h1v1h-1zM883 283h1v1h-1zM883 289h1v1h-1zM883 295h1v1h-1zM883 301h1v1h-1zM883 307h1v1h-1zM883 313h1v1h-1zM883 319h1v1h-1zM883 325h1v1h-1zM883 331h1v1h-1zM883 337h1v1h-1zM883 343h1v1h-1zM883 349h1v1h-1zM883 355h1v1h-1zM883 361h1v1h-1zM883 367h1v1h-1zM883 373h1v1h-1zM883 379h1v1h-1zM883 385h1v1h-1zM883 391h1v1h-1zM883 397h1v1h-1zM883 403h1v1h-1zM883 409h1v1h-1zM883 415h1v1h-1zM883 421h1v1h-1zM883 427h1v1h-1zM883 433h1v1h-1zM883 440h1v1h-1zM883 446h1v1h-1zM883 452h1v1h-1zM883 458h1v1h-1zM883 464h1v1h-1zM883 470h1v1h-1zM883 476h1v1h-1zM883 482h1v1h-1zM883 488h1v1h-1zM883 494h1v1h-1zM883 500h1v1h-1zM883 506h1v1h-1zM883 512h1v1h-1zM883 518h1v1h-1zM883 524h1v1h-1zM883 530h1v1h-1zM937 25h1v1h-1zM937 31h1v1h-1zM937 37h1v1h-1zM937 43h1v1h-1zM937 49h1v1h-1zM937 55h1v1h-1zM937 61h1v1h-1zM937 67h1v1h-1zM937 73h1v1h-1zM937 79h1v1h-1zM937 85h1v1h-1zM937 91h1v1h-1zM937 97h1v1h-1zM937 103h1v1h-1zM937 109h1v1h-1zM937 115h1v1h-1zM937 121h1v1h-1zM937 127h1v1h-1zM937 133h1v1h-1zM937 139h1v1h-1zM937 145h1v1h-1zM937 151h1v1h-1zM937 157h1v1h-1zM937 163h1v1h-1zM937 169h1v1h-1zM937 175h1v1h-1zM937 181h1v1h-1zM937 187h1v1h-1zM937 193h1v1h-1zM937 199h1v1h-1zM937 205h1v1h-1zM937 211h1v1h-1zM937 217h1v1h-1zM937 223h1v1h-1zM937 229h1v1h-1zM937 235h1v1h-1zM937 241h1v1h-1zM937 247h1v1h-1zM937 253h1v1h-1zM937 259h1v1h-1zM937 265h1v1h-1zM937 271h1v1h-1zM937 277h1v1h-1zM937 283h1v1h-1zM937 289h1v1h-1zM937 295h1v1h-1zM937 301h1v1h-1zM937 307h1v1h-1zM937 313h1v1h-1zM937 319h1v1h-1zM937 325h1v1h-1zM937 331h1v1h-1zM937 337h1v1h-1zM937 343h1v1h-1zM937 349h1v1h-1zM937 355h1v1h-1zM937 361h1v1h-1zM937 367h1v1h-1zM937 373h1v1h-1zM937 379h1v1h-1zM937 385h1v1h-1zM937 391h1v1h-1zM937 397h1v1h-1zM937 403h1v1h-1zM937 409h1v1h-1zM937 415h1v1h-1zM937 421h1v1h-1zM937 427h1v1h-1zM937 433h1v1h-1zM937 440h1v1h-1zM937 446h1v1h-1zM937 452h1v1h-1zM937 458h1v1h-1zM937 464h1v1h-1zM937 470h1v1h-1zM937 476h1v1h-1zM937 482h1v1h-1zM937 488h1v1h-1zM937 494h1v1h-1zM937 500h1v1h-1zM937 506h1v1h-1zM937 512h1v1h-1zM937 518h1v1h-1zM937 524h1v1h-1zM937 530h1v1h-1zM990 25h1v1h-1zM990 31h1v1h-1zM990 37h1v1h-1zM990 43h1v1h-1zM990 49h1v1h-1zM990 55h1v1h-1zM990 61h1v1h-1zM990 67h1v1h-1zM990 73h1v1h-1zM990 79h1v1h-1zM990 85h1v1h-1zM990 91h1v1h-1zM990 97h1v1h-1zM990 103h1v1h-1zM990 109h1v1h-1zM990 115h1v1h-1zM990 121h1v1h-1zM990 127h1v1h-1zM990 133h1v1h-1zM990 139h1v1h-1zM990 145h1v1h-1zM990 151h1v1h-1zM990 157h1v1h-1zM990 163h1v1h-1zM990 169h1v1h-1zM990 175h1v1h-1zM990 181h1v1h-1zM990 187h1v1h-1zM990 193h1v1h-1zM990 199h1v1h-1zM990 205h1v1h-1zM990 211h1v1h-1zM990 217h1v1h-1zM990 223h1v1h-1zM990 229h1v1h-1zM990 235h1v1h-1zM990 241h1v1h-1zM990 247h1v1h-1zM990 253h1v1h-1zM990 259h1v1h-1zM990 265h1v1h-1zM990 271h1v1h-1zM990 277h1v1h-1zM990 283h1v1h-1zM990 289h1v1h-1zM990 295h1v1h-1zM990 301h1v1h-1zM990 307h1v1h-1zM990 313h1v1h-1zM990 319h1v1h-1zM990 325h1v1h-1zM990 331h1v1h-1zM990 337h1v1h-1zM990 343h1v1h-1zM990 349h1v1h-1zM990 355h1v1h-1zM990 361h1v1h-1zM990 367h1v1h-1zM990 373h1v1h-1zM990 379h1v1h-1zM990 385h1v1h-1zM990 391h1v1h-1zM990 397h1v1h-1zM990 403h1v1h-1zM990 409h1v1h-1zM990 415h1v1h-1zM990 421h1v1h-1zM990 427h1v1h-1zM990 433h1v1h-1zM990 440h1v1h-1zM990 446h1v1h-1zM990 452h1v1h-1zM990 458h1v1h-1zM990 464h1v1h-1zM990 470h1v1h-1zM990 476h1v1h-1zM990 482h1v1h-1zM990 488h1v1h-1zM990 494h1v1h-1zM990 500h1v1h-1zM990 506h1v1h-1zM990 512h1v1h-1zM990 518h1v1h-1zM990 524h1v1h-1zM990 530h1v1h-1zM1044 25h1v1h-1zM1044 31h1v1h-1zM1044 37h1v1h-1zM1044 43h1v1h-1zM1044 49h1v1h-1zM1044 55h1v1h-1zM1044 61h1v1h-1zM1044 67h1v1h-1zM1044 73h1v1h-1zM1044 79h1v1h-1zM1044 85h1v1h-1zM1044 91h1v1h-1zM1044 97h1v1h-1zM1044 103h1v1h-1zM1044 109h1v1h-1zM1044 115h1v1h-1zM1044 121h1v1h-1zM1044 127h1v1h-1zM1044 133h1v1h-1zM1044 139h1v1h-1zM1044 145h1v1h-1zM1044 151h1v1h-1zM1044 157h1v1h-1zM1044 163h1v1h-1zM1044 169h1v1h-1zM1044 175h1v1h-1zM1044 181h1v1h-1zM1044 187h1v1h-1zM1044 193h1v1h-1zM1044 199h1v1h-1zM1044 205h1v1h-1zM1044 211h1v1h-1zM1044 217h1v1h-1zM1044 223h1v1h-1zM1044 229h1v1h-1zM1044 235h1v1h-1zM1044 241h1v1h-1zM1044 247h1v1h-1zM1044 253h1v1h-1zM1044 259h1v1h-1zM1044 265h1v1h-1zM1044 271h1v1h-1zM1044 277h1v1h-1zM1044 283h1v1h-1zM1044 289h1v1h-1zM1044 295h1v1h-1zM1044 301h1v1h-1zM1044 307h1v1h-1zM1044 313h1v1h-1zM1044 319h1v1h-1zM1044 325h1v1h-1zM1044 331h1v1h-1zM1044 337h1v1h-1zM1044 343h1v1h-1zM1044 349h1v1h-1zM1044 355h1v1h-1zM1044 361h1v1h-1zM1044 367h1v1h-1zM1044 373h1v1h-1zM1044 379h1v1h-1zM1044 385h1v1h-1zM1044 391h1v1h-1zM1044 397h1v1h-1zM1044 403h1v1h-1zM1044 409h1v1h-1zM1044 415h1v1h-1zM1044 421h1v1h-1zM1044 427h1v1h-1zM1044 433h1v1h-1zM1044 440h1v1h-1zM1044 446h1v1h-1zM1044 452h1v1h-1zM1044 458h1v1h-1zM1044 464h1v1h-1zM1044 470h1v1h-1zM1044 476h1v1h-1zM1044 482h1v1h-1zM1044 488h1v1h-1zM1044 494h1v1h-1zM1044 500h1v1h-1zM1044 506h1v1h-1zM1044 512h1v1h-1zM1044 518h1v1h-1zM1044 524h1v1h-1zM1044 530h1v1h-1zM1098 25h1v1h-1zM1098 31h1v1h-1zM1098 37h1v1h-1zM1098 43h1v1h-1zM1098 49h1v1h-1zM1098 55h1v1h-1zM1098 61h1v1h-1zM1098 67h1v1h-1zM1098 73h1v1h-1zM1098 79h1v1h-1zM1098 85h1v1h-1zM1098 91h1v1h-1zM1098 97h1v1h-1zM1098 103h1v1h-1zM1098 109h1v1h-1zM1098 115h1v1h-1zM1098 121h1v1h-1zM1098 127h1v1h-1zM1098 133h1v1h-1zM1098 139h1v1h-1zM1098 145h1v1h-1zM1098 151h1v1h-1zM1098 157h1v1h-1zM1098 163h1v1h-1zM1098 169h1v1h-1zM1098 175h1v1h-1zM1098 181h1v1h-1zM1098 187h1v1h-1zM1098 193h1v1h-1zM1098 199h1v1h-1zM1098 205h1v1h-1zM1098 211h1v1h-1zM1098 217h1v1h-1zM1098 223h1v1h-1zM1098 229h1v1h-1zM1098 235h1v1h-1zM1098 241h1v1h-1zM1098 247h1v1h-1zM1098 253h1v1h-1zM1098 259h1v1h-1zM1098 265h1v1h-1zM1098 271h1v1h-1zM1098 277h1v1h-1zM1098 283h1v1h-1zM1098 289h1v1h-1zM1098 295h1v1h-1zM1098 301h1v1h-1zM1098 307h1v1h-1zM1098 313h1v1h-1zM1098 319h1v1h-1zM1098 325h1v1h-1zM1098 331h1v1h-1zM1098 337h1v1h-1zM1098 343h1v1h-1zM1098 349h1v1h-1zM1098 355h1v1h-1zM1098 361h1v1h-1zM1098 367h1v1h-1zM1098 373h1v1h-1zM1098 379h1v1h-1zM1098 385h1v1h-1zM1098 391h1v1h-1zM1098 397h1v1h-1zM1098 403h1v1h-1zM1098 409h1v1h-1zM1098 415h1v1h-1zM1098 421h1v1h-1zM1098 427h1v1h-1zM1098 433h1v1h-1zM1098 440h1v1h-1zM1098 446h1v1h-1zM1098 452h1v1h-1zM1098 458h1v1h-1zM1098 464h1v1h-1zM1098 470h1v1h-1zM1098 476h1v1h-1zM1098 482h1v1h-1zM1098 488h1v1h-1zM1098 494h1v1h-1zM1098 500h1v1h-1zM1098 506h1v1h-1zM1098 512h1v1h-1zM1098 518h1v1h-1zM1098 524h1v1h-1zM1098 530h1v1h-1z"/>
</g>
<rect x="0" y="531" width="1247" height="1" fill="#e6e6e6"/>
<rect x="0" y="533" width="1247" height="1" fill="#8a8a8a"/>
<rect x="0" y="535" width="1247" height="2" fill="#f0eeee"/>
</g>
<g fill="#fff" stroke="#ffa500" stroke-width="1.3" stroke-linejoin="round">
<path d="M75.6 285.2L77.9 282.9L79.1 282.9L81.4 285.2L81.4 286.4L79.1 288.7L77.9 288.7L75.6 286.4Z"/>
<path d="M92.6 306.9L94.9 304.6L96.1 304.6L98.4 306.9L98.4 308.1L96.1 310.4L94.9 310.4L92.6 308.1Z"/>
<path d="M110.6 391.9L112.9 389.6L114.1 389.6L116.4 391.9L116.4 393.1L114.1 395.4L112.9 395.4L110.6 393.1Z"/>
<path d="M128.6 389.8L130.9 387.5L132.1 387.5L134.4 389.8L134.4 391L132.1 393.3L130.9 393.3L128.6 391Z"/>
<path d="M146.6 385.9L148.9 383.6L150.1 383.6L152.4 385.9L152.4 387.1L150.1 389.4L148.9 389.4L146.6 387.1Z"/>
<path d="M164.6 376.9L166.9 374.6L168.1 374.6L170.4 376.9L170.4 378.1L168.1 380.4L166.9 380.4L164.6 378.1Z"/>
<path d="M182.6 364.9L184.9 362.6L186.1 362.6L188.4 364.9L188.4 366.1L186.1 368.4L184.9 368.4L182.6 366.1Z"/>
<path d="M200.6 346.9L202.9 344.6L204.1 344.6L206.4 346.9L206.4 348.1L204.1 350.4L202.9 350.4L200.6 348.1Z"/>
<path d="M218.6 331.8L220.9 329.5L222.1 329.5L224.4 331.8L224.4 333L222.1 335.3L220.9 335.3L218.6 333Z"/>
<path d="M236.6 318.2L238.9 315.9L240.1 315.9L242.4 318.2L242.4 319.4L240.1 321.7L238.9 321.7L236.6 319.4Z"/>
<path d="M254.6 305.8L256.9 303.5L258.1 303.5L260.4 305.8L260.4 307L258.1 309.3L256.9 309.3L254.6 307Z"/>
<path d="M271.6 293.9L273.9 291.6L275.1 291.6L277.4 293.9L277.4 295.1L275.1 297.4L273.9 297.4L271.6 295.1Z"/>
<path d="M289.6 283.8L291.9 281.5L293.1 281.5L295.4 283.8L295.4 285L293.1 287.3L291.9 287.3L289.6 285Z"/>
<path d="M307.6 274.7L309.9 272.4L311.1 272.4L313.4 274.7L313.4 275.9L311.1 278.2L309.9 278.2L307.6 275.9Z"/>
<path d="M325.6 264.8L327.9 262.5L329.1 262.5L331.4 264.8L331.4 266L329.1 268.3L327.9 268.3L325.6 266Z"/>
<path d="M343.6 253.7L345.9 251.4L347.1 251.4L349.4 253.7L349.4 254.9L347.1 257.2L345.9 257.2L343.6 254.9Z"/>
<path d="M361.6 243.8L363.9 241.5L365.1 241.5L367.4 243.8L367.4 245L365.1 247.3L363.9 247.3L361.6 245Z"/>
<path d="M379.6 235L381.9 232.7L383.1 232.7L385.4 235L385.4 236.2L383.1 238.5L381.9 238.5L379.6 236.2Z"/>
<path d="M397.6 224.1L399.9 221.8L401.1 221.8L403.4 224.1L403.4 225.3L401.1 227.6L399.9 227.6L397.6 225.3Z"/>
<path d="M415.6 206.8L417.9 204.5L419.1 204.5L421.4 206.8L421.4 208L419.1 210.3L417.9 210.3L415.6 208Z"/>
<path d="M433.6 193L435.9 190.7L437.1 190.7L439.4 193L439.4 194.2L437.1 196.5L435.9 196.5L433.6 194.2Z"/>
<path d="M450.6 178L452.9 175.7L454.1 175.7L456.4 178L456.4 179.2L454.1 181.5L452.9 181.5L450.6 179.2Z"/>
<path d="M468.6 163.9L470.9 161.6L472.1 161.6L474.4 163.9L474.4 165.1L472.1 167.4L470.9 167.4L468.6 165.1Z"/>
<path d="M486.6 151.9L488.9 149.6L490.1 149.6L492.4 151.9L492.4 153.1L490.1 155.4L488.9 155.4L486.6 153.1Z"/>
<path d="M504.6 142.7L506.9 140.4L508.1 140.4L510.4 142.7L510.4 143.9L508.1 146.2L506.9 146.2L504.6 143.9Z"/>
<path d="M522.6 131.9L524.9 129.6L526.1 129.6L528.4 131.9L528.4 133.1L526.1 135.4L524.9 135.4L522.6 133.1Z"/>
<path d="M540.6 123.8L542.9 121.5L544.1 121.5L546.4 123.8L546.4 125L544.1 127.3L542.9 127.3L540.6 125Z"/>
<path d="M558.6 116.9L560.9 114.6L562.1 114.6L564.4 116.9L564.4 118.1L562.1 120.4L560.9 120.4L558.6 118.1Z"/>
<path d="M576.6 110.9L578.9 108.6L580.1 108.6L582.4 110.9L582.4 112.1L580.1 114.4L578.9 114.4L576.6 112.1Z"/>
<path d="M594.6 102.9L596.9 100.6L598.1 100.6L600.4 102.9L600.4 104.1L598.1 106.4L596.9 106.4L594.6 104.1Z"/>
<path d="M612.6 95.9L614.9 93.6L616.1 93.6L618.4 95.9L618.4 97.1L616.1 99.4L614.9 99.4L612.6 97.1Z"/>
<path d="M629.6 91L631.9 88.7L633.1 88.7L635.4 91L635.4 92.2L633.1 94.5L631.9 94.5L629.6 92.2Z"/>
<path d="M647.6 56.8L649.9 54.5L651.1 54.5L653.4 56.8L653.4 58L651.1 60.3L649.9 60.3L647.6 58Z"/>
<path d="M665.6 56.8L667.9 54.5L669.1 54.5L671.4 56.8L671.4 58L669.1 60.3L667.9 60.3L665.6 58Z"/>
<path d="M683.6 58.9L685.9 56.6L687.1 56.6L689.4 58.9L689.4 60.1L687.1 62.4L685.9 62.4L683.6 60.1Z"/>
<path d="M701.6 60.8L703.9 58.5L705.1 58.5L707.4 60.8L707.4 62L705.1 64.3L703.9 64.3L701.6 62Z"/>
<path d="M719.6 65.9L721.9 63.6L723.1 63.6L725.4 65.9L725.4 67.1L723.1 69.4L721.9 69.4L719.6 67.1Z"/>
<path d="M737.6 72.8L739.9 70.5L741.1 70.5L743.4 72.8L743.4 74L741.1 76.3L739.9 76.3L737.6 74Z"/>
<path d="M755.6 82.7L757.9 80.4L759.1 80.4L761.4 82.7L761.4 83.9L759.1 86.2L757.9 86.2L755.6 83.9Z"/>
<path d="M773.6 94.7L775.9 92.4L777.1 92.4L779.4 94.7L779.4 95.9L777.1 98.2L775.9 98.2L773.6 95.9Z"/>
<path d="M791.6 109.7L793.9 107.4L795.1 107.4L797.4 109.7L797.4 110.9L795.1 113.2L793.9 113.2L791.6 110.9Z"/>
<path d="M808.6 121.9L810.9 119.6L812.1 119.6L814.4 121.9L814.4 123.1L812.1 125.4L810.9 125.4L808.6 123.1Z"/>
<path d="M826.6 134.9L828.9 132.6L830.1 132.6L832.4 134.9L832.4 136.1L830.1 138.4L828.9 138.4L826.6 136.1Z"/>
<path d="M844.6 148.9L846.9 146.6L848.1 146.6L850.4 148.9L850.4 150.1L848.1 152.4L846.9 152.4L844.6 150.1Z"/>
<path d="M862.6 205.9L864.9 203.6L866.1 203.6L868.4 205.9L868.4 207.1L866.1 209.4L864.9 209.4L862.6 207.1Z"/>
<path d="M880.6 204.9L882.9 202.6L884.1 202.6L886.4 204.9L886.4 206.1L884.1 208.4L882.9 208.4L880.6 206.1Z"/>
<path d="M898.6 151.8L900.9 149.5L902.1 149.5L904.4 151.8L904.4 153L902.1 155.3L900.9 155.3L898.6 153Z"/>
<path d="M916.6 153L918.9 150.7L920.1 150.7L922.4 153L922.4 154.2L920.1 156.5L918.9 156.5L916.6 154.2Z"/>
<path d="M934.6 156.9L936.9 154.6L938.1 154.6L940.4 156.9L940.4 158.1L938.1 160.4L936.9 160.4L934.6 158.1Z"/>
<path d="M952.6 162.9L954.9 160.6L956.1 160.6L958.4 162.9L958.4 164.1L956.1 166.4L954.9 166.4L952.6 164.1Z"/>
<path d="M969.6 167.9L971.9 165.6L973.1 165.6L975.4 167.9L975.4 169.1L973.1 171.4L971.9 171.4L969.6 169.1Z"/>
<path d="M987.6 172.9L989.9 170.6L991.1 170.6L993.4 172.9L993.4 174.1L991.1 176.4L989.9 176.4L987.6 174.1Z"/>
<path d="M1005.6 178L1007.9 175.7L1009.1 175.7L1011.4 178L1011.4 179.2L1009.1 181.5L1007.9 181.5L1005.6 179.2Z"/>
<path d="M1023.6 251.7L1025.9 249.4L1027.1 249.4L1029.4 251.7L1029.4 252.9L1027.1 255.2L1025.9 255.2L1023.6 252.9Z"/>
<path d="M1041.6 250.8L1043.9 248.5L1045.1 248.5L1047.4 250.8L1047.4 252L1045.1 254.3L1043.9 254.3L1041.6 252Z"/>
<path d="M1059.6 247.8L1061.9 245.5L1063.1 245.5L1065.4 247.8L1065.4 249L1063.1 251.3L1061.9 251.3L1059.6 249Z"/>
<path d="M1077.6 242.8L1079.9 240.5L1081.1 240.5L1083.4 242.8L1083.4 244L1081.1 246.3L1079.9 246.3L1077.6 244Z"/>
<path d="M1095.6 235.9L1097.9 233.6L1099.1 233.6L1101.4 235.9L1101.4 237.1L1099.1 239.4L1097.9 239.4L1095.6 237.1Z"/>
<path d="M1113.6 228.9L1115.9 226.6L1117.1 226.6L1119.4 228.9L1119.4 230.1L1117.1 232.4L1115.9 232.4L1113.6 230.1Z"/>
<path d="M1131.6 221.9L1133.9 219.6L1135.1 219.6L1137.4 221.9L1137.4 223.1L1135.1 225.4L1133.9 225.4L1131.6 223.1Z"/>
</g>
<g shape-rendering="crispEdges">
<rect x="375" y="27" width="386" height="3" fill="#ed1c24"/>
<rect x="761" y="26" width="387" height="3" fill="#ed1c24"/>
<rect x="375" y="55" width="249" height="3" fill="#ed1c24"/>
<rect x="76" y="293" width="58" height="3" fill="#ed1c24"/>
<rect x="506" y="225" width="509" height="3" fill="#ed1c24"/>
<rect x="508" y="242" width="212" height="3" fill="#ed1c24"/>
<rect x="720" y="241" width="211" height="3" fill="#ed1c24"/>
</g>
<g fill="none" stroke="#ed1c24" stroke-width="3">
<ellipse cx="153.25" cy="291.4" rx="19.15" ry="9.9"/>
<ellipse cx="955.4" cy="240.8" rx="10.9" ry="8.1"/>
<ellipse cx="1025" cy="212.4" rx="14.1" ry="7.6"/>
</g>
<g font-family="'Liberation Sans',sans-serif" font-size="11" fill="#000" stroke="#000" stroke-width="0.25">
<text x="77.7" y="358" textLength="5.6" lengthAdjust="spacingAndGlyphs">S</text>
<text x="148.7" y="292" textLength="5.6" lengthAdjust="spacingAndGlyphs">B</text>
<text x="166.7" y="223" textLength="5.6" lengthAdjust="spacingAndGlyphs">S</text>
<text x="184.7" y="221" textLength="5.6" lengthAdjust="spacingAndGlyphs">B</text>
<text x="220.7" y="219" textLength="5.6" lengthAdjust="spacingAndGlyphs">S</text>
<text x="309.7" y="219.6" textLength="5.6" lengthAdjust="spacingAndGlyphs">B</text>
<text x="345.7" y="199" textLength="5.6" lengthAdjust="spacingAndGlyphs">S</text>
<text x="363.7" y="207.8" textLength="5.6" lengthAdjust="spacingAndGlyphs">B</text>
<text x="578.7" y="67.8" textLength="5.6" lengthAdjust="spacingAndGlyphs">S</text>
<text x="757.7" y="182.8" textLength="5.6" lengthAdjust="spacingAndGlyphs">B</text>
<text x="900.7" y="197.8" textLength="5.6" lengthAdjust="spacingAndGlyphs">S</text>
<text x="954.7" y="245.4" textLength="5.6" lengthAdjust="spacingAndGlyphs">B</text>
<text x="1115.7" y="183.6" textLength="5.6" lengthAdjust="spacingAndGlyphs">S</text>
<text x="1133.7" y="225.1" textLength="5.6" lengthAdjust="spacingAndGlyphs">B</text>
</g>
<g font-family="'Liberation Sans',sans-serif" font-size="11" fill="#000">
<text x="30.3 36.3 43.6 48.3 54.3 60.3" y="95">10,800</text>
<text x="30.3 36.3 43.6 48.3 54.3 60.3" y="147">10,500</text>
<text x="30.3 36.3 43.6 48.3 54.3 60.3" y="200">10,200</text>
<text x="36.3 43.6 48.3 54.3 60.3" y="253">9,900</text>
<text x="36.3 43.6 48.3 54.3 60.3" y="305">9,600</text>
<text x="36.3 43.6 48.3 54.3 60.3" y="358">9,300</text>
<text x="1.2 7.2 13.2 20.5 25.2 31.2 37.2 44.5 49.2 55.2 61.2" y="467">800,000,000</text>
<text x="1.2 7.2 13.2 20.5 25.2 31.2 37.2 44.5 49.2 55.2 61.2" y="501">100,000,000</text>
<clipPath id="cb"><rect x="0" y="520" width="80" height="11"/></clipPath>
<g clip-path="url(#cb)"><text x="1.2 7.2 13.2 20.5 25.2 31.2 37.2 44.5 49.2 55.2 61.2" y="536">400,000,000</text></g>
</g>
<g font-family="'Liberation Sans',sans-serif" font-size="8.8" font-weight="bold" fill="#000">
<rect x="78" y="429" width="25" height="7" fill="#fff"/><text x="78.3 83.1 89 92.7 97.5" y="435.2">11/27</text>
<rect x="131" y="429" width="25" height="7" fill="#fff"/><text x="131.3 136.1 142 145.7 150.5" y="435.2">12/02</text>
<rect x="185" y="429" width="25" height="7" fill="#fff"/><text x="185.3 190.1 196 199.7 204.5" y="435.2">12/07</text>
<rect x="239" y="429" width="25" height="7" fill="#fff"/><text x="239.3 244.1 250 253.7 258.5" y="435.2">12/10</text>
<rect x="292" y="429" width="25" height="7" fill="#fff"/><text x="292.3 297.1 303 306.7 311.5" y="435.2">12/15</text>
<rect x="346" y="429" width="25" height="7" fill="#fff"/><text x="346.3 351.1 357 360.7 365.5" y="435.2">12/18</text>
<rect x="400" y="429" width="25" height="7" fill="#fff"/><text x="400.3 405.1 411 414.7 419.5" y="435.2">12/24</text>
<rect x="453" y="429" width="25" height="7" fill="#fff"/><text x="453.3 458.1 464 467.7 472.5" y="435.2">12/29</text>
<rect x="507" y="429" width="25" height="7" fill="#fff"/><text x="507.3 512.1 518 521.7 526.5" y="435.2">01/05</text>
<rect x="561" y="429" width="25" height="7" fill="#fff"/><text x="561.3 566.1 572 575.7 580.5" y="435.2">01/08</text>
<rect x="615" y="429" width="25" height="7" fill="#fff"/><text x="615.3 620.1 626 629.7 634.5" y="435.2">01/14</text>
<rect x="668" y="429" width="25" height="7" fill="#fff"/><text x="668.3 673.1 679 682.7 687.5" y="435.2">01/19</text>
<rect x="722" y="429" width="25" height="7" fill="#fff"/><text x="722.3 727.1 733 736.7 741.5" y="435.2">01/22</text>
<rect x="776" y="429" width="25" height="7" fill="#fff"/><text x="776.3 781.1 787 790.7 795.5" y="435.2">01/27</text>
<rect x="829" y="429" width="25" height="7" fill="#fff"/><text x="829.3 834.1 840 843.7 848.5" y="435.2">02/01</text>
<rect x="883" y="429" width="25" height="7" fill="#fff"/><text x="883.3 888.1 894 897.7 902.5" y="435.2">02/04</text>
<rect x="937" y="429" width="25" height="7" fill="#fff"/><text x="937.3 942.1 948 951.7 956.5" y="435.2">02/09</text>
<rect x="990" y="429" width="25" height="7" fill="#fff"/><text x="990.3 995.1 1001 1004.7 1009.5" y="435.2">02/15</text>
<rect x="1044" y="429" width="25" height="7" fill="#fff"/><text x="1044.3 1049.1 1055 1058.7 1063.5" y="435.2">02/18</text>
<rect x="1098" y="429" width="25" height="7" fill="#fff"/><text x="1098.3 1103.1 1109 1112.7 1117.5" y="435.2">02/23</text>
</g>
<text x="1155" y="228" font-family="'Liberation Mono',monospace" font-size="11" fill="#ffa500" textLength="53" lengthAdjust="spacingAndGlyphs">PARABOLIC</text>
<g font-family="'Liberation Sans','Noto Sans CJK JP',sans-serif" font-size="13" font-weight="400" fill="#f8202a">
<text x="89" y="61.8">6つのレンジに分けて考える。</text>
<text x="89" y="87.8">現在は4のレンジ。</text>
<text x="175" y="321.8">最重要なのがこの窓。これを埋めると</text>
<text x="175" y="347.6">12月からの上昇トレンドが否定される</text>
<text x="845" y="269.8">この窓をうめると、</text>
<text x="844.5" y="295.8">トレンド否定となる</text>
<text x="1028.5" y="243.4">今日はこの窓が</text>
<text x="1028.5" y="269.4">意識されたけど、</text>
<text x="1028.5" y="295.8">埋めても意味のない窓</text>
<text x="68.3" y="338.5">1</text>
<text x="460" y="270">2</text>
<text x="502" y="244">3</text>
<text x="518" y="195">4</text>
<text x="461.3" y="50">5</text>
<text x="483" y="32">6</text>
</g>
<g font-family="'Liberation Sans','Noto Sans CJK JP',sans-serif" font-size="13" font-weight="400" fill="#ff1493">
<text x="1150" y="249">パラボリックは陰転直前。。。</text>
<text x="1150" y="275.2">陰転回避できるか！？</text>
</g>
</svg>
</body></html>
